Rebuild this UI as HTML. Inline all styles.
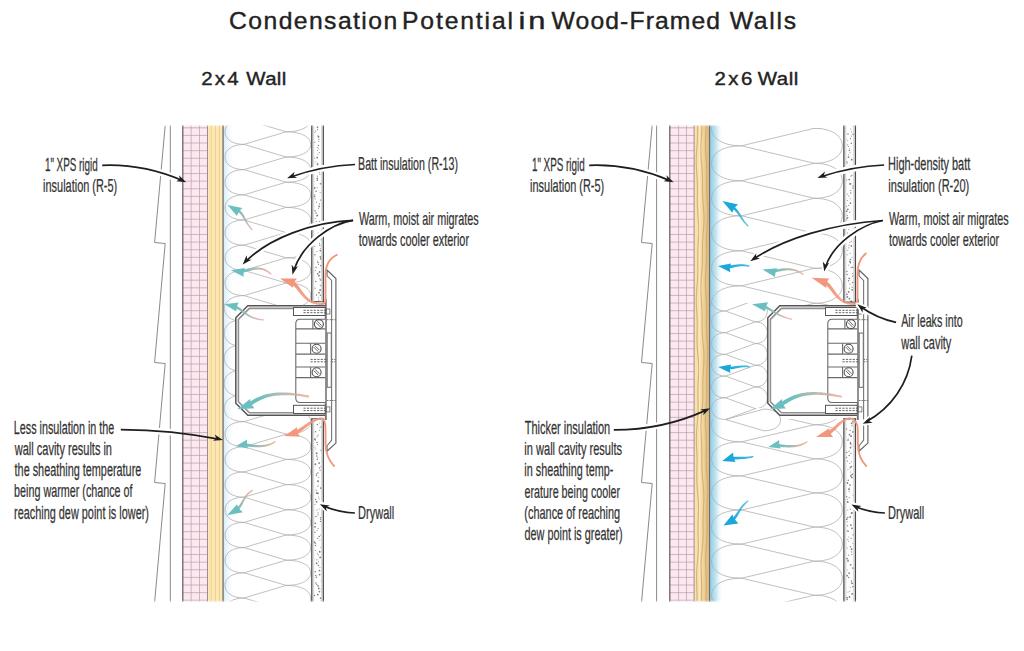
<!DOCTYPE html>
<html><head><meta charset="utf-8"><style>
html,body{margin:0;padding:0;background:#fff;overflow:hidden}
svg{display:block}
.t{font-family:"Liberation Sans",sans-serif;fill:#222;stroke:#222;stroke-width:0.4}
.l{font-family:"Liberation Sans",sans-serif;fill:#333;stroke:#333;stroke-width:0.25}
.sid{stroke:#8a8a8a;stroke-width:1;fill:none}
.ins{fill:none;stroke:#b0b0b0;stroke-width:0.8}
</style></head><body>
<svg width="1024" height="651" viewBox="0 0 1024 651">
<defs><linearGradient id="haze1" x1="0" x2="1" y1="0" y2="0"><stop offset="0" stop-color="#d6eef8"/><stop offset="1" stop-color="#fff" stop-opacity="0"/></linearGradient>
<clipPath id="cav1"><path d="M224,125 H311.2 V602 H224 Z M224,303.5 V418 H237 V303.5 Z" clip-rule="evenodd"/></clipPath>
<clipPath id="cav1b"><rect x="224" y="303.5" width="13" height="114.5"/></clipPath>
<linearGradient id="wood2" x1="0" x2="1" y1="0" y2="0"><stop offset="0" stop-color="#fae4b3"/><stop offset="0.5" stop-color="#f4d9a2"/><stop offset="0.78" stop-color="#e4c28b"/><stop offset="1" stop-color="#d5b179"/></linearGradient>
<linearGradient id="haze2" x1="0" x2="1" y1="0" y2="0"><stop offset="0" stop-color="#94cde6"/><stop offset="0.45" stop-color="#c5e5f2"/><stop offset="1" stop-color="#fff" stop-opacity="0"/></linearGradient>
<clipPath id="cav2"><path d="M710.5,125 H765 V127.9 H843.8 V305 H710.5 Z"/></clipPath>
<clipPath id="cav2c"><path d="M710.5,419 H843.8 V602 H710.5 Z"/></clipPath>
<clipPath id="cav2b"><path d="M710.5,303 H768.5 V408 H756 V419.5 H710.5 Z"/></clipPath>
<linearGradient id="g1" gradientUnits="userSpaceOnUse" x1="227.5" y1="205.1" x2="252.4" y2="230"><stop offset="0" stop-color="#6cbfc1"/><stop offset="0.3" stop-color="#6cbfc1"/><stop offset="1" stop-color="#e8a59a" stop-opacity="0.8"/></linearGradient>
<linearGradient id="g2" gradientUnits="userSpaceOnUse" x1="230.8" y1="270.2" x2="271.2" y2="274.3"><stop offset="0" stop-color="#6cbfc1"/><stop offset="0.3" stop-color="#6cbfc1"/><stop offset="1" stop-color="#efa58e" stop-opacity="0.8"/></linearGradient>
<linearGradient id="g3" gradientUnits="userSpaceOnUse" x1="280" y1="278.4" x2="322" y2="304"><stop offset="0" stop-color="#f2977b"/><stop offset="0.3" stop-color="#f2977b"/><stop offset="1" stop-color="#f2977b" stop-opacity="0.8"/></linearGradient>
<linearGradient id="g4" gradientUnits="userSpaceOnUse" x1="224.5" y1="304.2" x2="263.8" y2="319.9"><stop offset="0" stop-color="#6cbfc1"/><stop offset="0.3" stop-color="#6cbfc1"/><stop offset="1" stop-color="#e9b0a4" stop-opacity="0.8"/></linearGradient>
<linearGradient id="g5" gradientUnits="userSpaceOnUse" x1="237.4" y1="409.3" x2="309.1" y2="396.6"><stop offset="0" stop-color="#6cbfc1"/><stop offset="0.3" stop-color="#6cbfc1"/><stop offset="1" stop-color="#efa996" stop-opacity="0.8"/></linearGradient>
<linearGradient id="g6" gradientUnits="userSpaceOnUse" x1="284.1" y1="436.1" x2="321.6" y2="418.2"><stop offset="0" stop-color="#f2977b"/><stop offset="0.3" stop-color="#f2977b"/><stop offset="1" stop-color="#f2977b" stop-opacity="0.8"/></linearGradient>
<linearGradient id="g7" gradientUnits="userSpaceOnUse" x1="236" y1="446" x2="275.3" y2="441.4"><stop offset="0" stop-color="#6cbfc1"/><stop offset="0.3" stop-color="#6cbfc1"/><stop offset="1" stop-color="#efa58e" stop-opacity="0.8"/></linearGradient>
<linearGradient id="g8" gradientUnits="userSpaceOnUse" x1="227.2" y1="515.3" x2="252.7" y2="490.1"><stop offset="0" stop-color="#6cbfc1"/><stop offset="0.3" stop-color="#6cbfc1"/><stop offset="1" stop-color="#efa58e" stop-opacity="0.8"/></linearGradient>
<linearGradient id="g9" gradientUnits="userSpaceOnUse" x1="722.4" y1="201.1" x2="748.3" y2="226.3"><stop offset="0" stop-color="#1aa8dc"/><stop offset="0.3" stop-color="#1aa8dc"/><stop offset="1" stop-color="#5ab8c8" stop-opacity="0.8"/></linearGradient>
<linearGradient id="g10" gradientUnits="userSpaceOnUse" x1="717.9" y1="266" x2="749.4" y2="266.4"><stop offset="0" stop-color="#1aa8dc"/><stop offset="0.3" stop-color="#1aa8dc"/><stop offset="1" stop-color="#1aa8dc" stop-opacity="0.8"/></linearGradient>
<linearGradient id="g11" gradientUnits="userSpaceOnUse" x1="762.5" y1="269.6" x2="803.5" y2="274.8"><stop offset="0" stop-color="#6cbfc1"/><stop offset="0.3" stop-color="#6cbfc1"/><stop offset="1" stop-color="#efa58e" stop-opacity="0.8"/></linearGradient>
<linearGradient id="g12" gradientUnits="userSpaceOnUse" x1="811.6" y1="277.7" x2="854" y2="304"><stop offset="0" stop-color="#f2977b"/><stop offset="0.3" stop-color="#f2977b"/><stop offset="1" stop-color="#f2977b" stop-opacity="0.8"/></linearGradient>
<linearGradient id="g13" gradientUnits="userSpaceOnUse" x1="752" y1="304.2" x2="792.1" y2="319.3"><stop offset="0" stop-color="#6cbfc1"/><stop offset="0.3" stop-color="#6cbfc1"/><stop offset="1" stop-color="#e9b0a4" stop-opacity="0.8"/></linearGradient>
<linearGradient id="g14" gradientUnits="userSpaceOnUse" x1="718.1" y1="366.9" x2="749.6" y2="366.9"><stop offset="0" stop-color="#1aa8dc"/><stop offset="0.3" stop-color="#1aa8dc"/><stop offset="1" stop-color="#1aa8dc" stop-opacity="0.8"/></linearGradient>
<linearGradient id="g15" gradientUnits="userSpaceOnUse" x1="770.4" y1="409.1" x2="841.9" y2="396.8"><stop offset="0" stop-color="#6cbfc1"/><stop offset="0.3" stop-color="#6cbfc1"/><stop offset="1" stop-color="#efa996" stop-opacity="0.8"/></linearGradient>
<linearGradient id="g16" gradientUnits="userSpaceOnUse" x1="815.9" y1="436.9" x2="849.5" y2="418.1"><stop offset="0" stop-color="#f2977b"/><stop offset="0.3" stop-color="#f2977b"/><stop offset="1" stop-color="#f2977b" stop-opacity="0.8"/></linearGradient>
<linearGradient id="g17" gradientUnits="userSpaceOnUse" x1="768.25" y1="447" x2="807.3" y2="441.6"><stop offset="0" stop-color="#6cbfc1"/><stop offset="0.3" stop-color="#6cbfc1"/><stop offset="1" stop-color="#efa58e" stop-opacity="0.8"/></linearGradient>
<linearGradient id="g18" gradientUnits="userSpaceOnUse" x1="722.2" y1="461.1" x2="753.4" y2="456.4"><stop offset="0" stop-color="#1aa8dc"/><stop offset="0.3" stop-color="#1aa8dc"/><stop offset="1" stop-color="#1aa8dc" stop-opacity="0.8"/></linearGradient>
<linearGradient id="g19" gradientUnits="userSpaceOnUse" x1="723.5" y1="525.5" x2="748.3" y2="500.7"><stop offset="0" stop-color="#1aa8dc"/><stop offset="0.3" stop-color="#1aa8dc"/><stop offset="1" stop-color="#4fb5cf" stop-opacity="0.8"/></linearGradient>
<linearGradient id="fadeT" x1="0" x2="0" y1="0" y2="1"><stop offset="0" stop-color="#fff"/><stop offset="1" stop-color="#fff" stop-opacity="0"/></linearGradient>
<linearGradient id="fadeB" x1="0" x2="0" y1="1" y2="0"><stop offset="0" stop-color="#fff"/><stop offset="1" stop-color="#fff" stop-opacity="0"/></linearGradient></defs>
<rect width="1024" height="651" fill="#fff"/>
<line x1="170.3" y1="125" x2="170.3" y2="602" class="sid"/>
<path d="M165.2,125.5 L154.6,242.5 L165.2,243.5 L154.6,362.5 L165.2,363.5 L154.6,482.5 L165.2,483.5 L154.6,602.5" class="sid" fill="none"/>
<rect x="182.3" y="125" width="25.5" height="477" fill="#fde7f0"/>
<path d="M191.2,125V602M199.5,125V602M182.3,127.8H207.8M182.3,135.42H207.8M182.3,143.04H207.8M182.3,150.66H207.8M182.3,158.28H207.8M182.3,165.9H207.8M182.3,173.52H207.8M182.3,181.14H207.8M182.3,188.76H207.8M182.3,196.38H207.8M182.3,204H207.8M182.3,211.62H207.8M182.3,219.24H207.8M182.3,226.86H207.8M182.3,234.48H207.8M182.3,242.1H207.8M182.3,249.72H207.8M182.3,257.34H207.8M182.3,264.96H207.8M182.3,272.58H207.8M182.3,280.2H207.8M182.3,287.82H207.8M182.3,295.44H207.8M182.3,303.06H207.8M182.3,310.68H207.8M182.3,318.3H207.8M182.3,325.92H207.8M182.3,333.54H207.8M182.3,341.16H207.8M182.3,348.78H207.8M182.3,356.4H207.8M182.3,364.02H207.8M182.3,371.64H207.8M182.3,379.26H207.8M182.3,386.88H207.8M182.3,394.5H207.8M182.3,402.12H207.8M182.3,409.74H207.8M182.3,417.36H207.8M182.3,424.98H207.8M182.3,432.6H207.8M182.3,440.22H207.8M182.3,447.84H207.8M182.3,455.46H207.8M182.3,463.08H207.8M182.3,470.7H207.8M182.3,478.32H207.8M182.3,485.94H207.8M182.3,493.56H207.8M182.3,501.18H207.8M182.3,508.8H207.8M182.3,516.42H207.8M182.3,524.04H207.8M182.3,531.66H207.8M182.3,539.28H207.8M182.3,546.9H207.8M182.3,554.52H207.8M182.3,562.14H207.8M182.3,569.76H207.8M182.3,577.38H207.8M182.3,585H207.8M182.3,592.62H207.8M182.3,600.24H207.8" stroke="#b3a2ab" stroke-width="0.7" fill="none"/>
<path d="M182.8,125V602M207.8,125V602" stroke="#6d6468" stroke-width="1.3" fill="none"/>
<rect x="207.8" y="125" width="15.8" height="477" fill="#fde8b4"/>
<path d="M211.2,125V602M215.4,125V602M219.5,125V602" stroke="#ebcf94" stroke-width="1" fill="none"/>
<path d="M223.3,125V602" stroke="#5a5550" stroke-width="1.6" fill="none"/>
<rect x="223.6" y="125" width="12" height="477" fill="url(#haze1)"/>
<g clip-path="url(#cav1)"><path d="M244,68.8 L286.2,81.4 L244,94 L286.2,106.6 L244,119.2 L286.2,131.8 L244,144.4 L286.2,157 L244,169.6 L286.2,182.2 L244,194.8 L286.2,207.4 L244,220 L286.2,232.6 L244,245.2 L286.2,257.8 L244,270.4 L286.2,283 L244,295.6 L286.2,308.2 L244,320.8 L286.2,333.4 L244,346 L286.2,358.6 L244,371.2 L286.2,383.8 L244,396.4 L286.2,409 L244,421.6 L286.2,434.2 L244,446.8 L286.2,459.4 L244,472 L286.2,484.6 L244,497.2 L286.2,509.8 L244,522.4 L286.2,535 L244,547.6 L286.2,560.2 L244,572.8 L286.2,585.4 L244,598 L286.2,610.6 L244,623.2 L286.2,635.8 L244,648.4 L286.2,661M244,94C232.22,94 225,88.71 225,81.4C225,74.09 232.22,68.8 244,68.8M286.2,81.4C301.39,81.4 310.7,86.69 310.7,94C310.7,101.31 301.39,106.6 286.2,106.6M244,119.2C232.22,119.2 225,113.91 225,106.6C225,99.29 232.22,94 244,94M286.2,106.6C301.39,106.6 310.7,111.89 310.7,119.2C310.7,126.51 301.39,131.8 286.2,131.8M244,144.4C232.22,144.4 225,139.11 225,131.8C225,124.49 232.22,119.2 244,119.2M286.2,131.8C301.39,131.8 310.7,137.09 310.7,144.4C310.7,151.71 301.39,157 286.2,157M244,169.6C232.22,169.6 225,164.31 225,157C225,149.69 232.22,144.4 244,144.4M286.2,157C301.39,157 310.7,162.29 310.7,169.6C310.7,176.91 301.39,182.2 286.2,182.2M244,194.8C232.22,194.8 225,189.51 225,182.2C225,174.89 232.22,169.6 244,169.6M286.2,182.2C301.39,182.2 310.7,187.49 310.7,194.8C310.7,202.11 301.39,207.4 286.2,207.4M244,220C232.22,220 225,214.71 225,207.4C225,200.09 232.22,194.8 244,194.8M286.2,207.4C301.39,207.4 310.7,212.69 310.7,220C310.7,227.31 301.39,232.6 286.2,232.6M244,245.2C232.22,245.2 225,239.91 225,232.6C225,225.29 232.22,220 244,220M286.2,232.6C301.39,232.6 310.7,237.89 310.7,245.2C310.7,252.51 301.39,257.8 286.2,257.8M244,270.4C232.22,270.4 225,265.11 225,257.8C225,250.49 232.22,245.2 244,245.2M286.2,257.8C301.39,257.8 310.7,263.09 310.7,270.4C310.7,277.71 301.39,283 286.2,283M244,295.6C232.22,295.6 225,290.31 225,283C225,275.69 232.22,270.4 244,270.4M286.2,283C301.39,283 310.7,288.29 310.7,295.6C310.7,302.91 301.39,308.2 286.2,308.2M244,320.8C232.22,320.8 225,315.51 225,308.2C225,300.89 232.22,295.6 244,295.6M286.2,308.2C301.39,308.2 310.7,313.49 310.7,320.8C310.7,328.11 301.39,333.4 286.2,333.4M244,346C232.22,346 225,340.71 225,333.4C225,326.09 232.22,320.8 244,320.8M286.2,333.4C301.39,333.4 310.7,338.69 310.7,346C310.7,353.31 301.39,358.6 286.2,358.6M244,371.2C232.22,371.2 225,365.91 225,358.6C225,351.29 232.22,346 244,346M286.2,358.6C301.39,358.6 310.7,363.89 310.7,371.2C310.7,378.51 301.39,383.8 286.2,383.8M244,396.4C232.22,396.4 225,391.11 225,383.8C225,376.49 232.22,371.2 244,371.2M286.2,383.8C301.39,383.8 310.7,389.09 310.7,396.4C310.7,403.71 301.39,409 286.2,409M244,421.6C232.22,421.6 225,416.31 225,409C225,401.69 232.22,396.4 244,396.4M286.2,409C301.39,409 310.7,414.29 310.7,421.6C310.7,428.91 301.39,434.2 286.2,434.2M244,446.8C232.22,446.8 225,441.51 225,434.2C225,426.89 232.22,421.6 244,421.6M286.2,434.2C301.39,434.2 310.7,439.49 310.7,446.8C310.7,454.11 301.39,459.4 286.2,459.4M244,472C232.22,472 225,466.71 225,459.4C225,452.09 232.22,446.8 244,446.8M286.2,459.4C301.39,459.4 310.7,464.69 310.7,472C310.7,479.31 301.39,484.6 286.2,484.6M244,497.2C232.22,497.2 225,491.91 225,484.6C225,477.29 232.22,472 244,472M286.2,484.6C301.39,484.6 310.7,489.89 310.7,497.2C310.7,504.51 301.39,509.8 286.2,509.8M244,522.4C232.22,522.4 225,517.11 225,509.8C225,502.49 232.22,497.2 244,497.2M286.2,509.8C301.39,509.8 310.7,515.09 310.7,522.4C310.7,529.71 301.39,535 286.2,535M244,547.6C232.22,547.6 225,542.31 225,535C225,527.69 232.22,522.4 244,522.4M286.2,535C301.39,535 310.7,540.29 310.7,547.6C310.7,554.91 301.39,560.2 286.2,560.2M244,572.8C232.22,572.8 225,567.51 225,560.2C225,552.89 232.22,547.6 244,547.6M286.2,560.2C301.39,560.2 310.7,565.49 310.7,572.8C310.7,580.11 301.39,585.4 286.2,585.4M244,598C232.22,598 225,592.71 225,585.4C225,578.09 232.22,572.8 244,572.8M286.2,585.4C301.39,585.4 310.7,590.69 310.7,598C310.7,605.31 301.39,610.6 286.2,610.6M244,623.2C232.22,623.2 225,617.91 225,610.6C225,603.29 232.22,598 244,598M286.2,610.6C301.39,610.6 310.7,615.89 310.7,623.2C310.7,630.51 301.39,635.8 286.2,635.8M244,648.4C232.22,648.4 225,643.11 225,635.8C225,628.49 232.22,623.2 244,623.2M286.2,635.8C301.39,635.8 310.7,641.09 310.7,648.4C310.7,655.71 301.39,661 286.2,661M244,673.6C232.22,673.6 225,668.31 225,661C225,653.69 232.22,648.4 244,648.4M286.2,661C301.39,661 310.7,666.29 310.7,673.6C310.7,680.91 301.39,686.2 286.2,686.2" class="ins"/></g>
<g clip-path="url(#cav1b)"><path d="M236.5,295.4 C229,296.4 224.2,301.9 224.2,307.95 C224.2,314 229,319.5 236.5,320.5M236.5,320.5 C229,321.5 224.2,327 224.2,333.05 C224.2,339.1 229,344.6 236.5,345.6M236.5,345.6 C229,346.6 224.2,352.1 224.2,358.15 C224.2,364.2 229,369.7 236.5,370.7M236.5,370.7 C229,371.7 224.2,377.2 224.2,383.25 C224.2,389.3 229,394.8 236.5,395.8M236.5,395.8 C229,396.8 224.2,402.3 224.2,408.35 C224.2,414.4 229,419.9 236.5,420.9M236.5,420.9 C229,421.9 224.2,427.4 224.2,433.45 C224.2,439.5 229,445 236.5,446M236.5,446 C229,447 224.2,452.5 224.2,458.55 C224.2,464.6 229,470.1 236.5,471.1" class="ins"/></g>
<rect x="311.8" y="125" width="11.5" height="177.2" fill="#fff"/>
<g fill="#7d7d7d"><circle cx="317.47" cy="127.11" r="0.9"/><circle cx="317.46" cy="129.69" r="0.6"/><circle cx="315.59" cy="131" r="0.6"/><circle cx="314.96" cy="132.58" r="0.5"/><circle cx="318.07" cy="135.74" r="0.5"/><circle cx="318.47" cy="136.74" r="0.9"/><circle cx="318.88" cy="139.17" r="0.6"/><circle cx="318.66" cy="141.59" r="0.5"/><circle cx="314.72" cy="142.31" r="0.6"/><circle cx="318.5" cy="145.47" r="0.75"/><circle cx="317.38" cy="147.59" r="0.6"/><circle cx="318.78" cy="148.9" r="0.5"/><circle cx="317.5" cy="150.44" r="0.5"/><circle cx="319.25" cy="152.51" r="0.6"/><circle cx="317.89" cy="153.93" r="0.5"/><circle cx="317.1" cy="157.55" r="0.9"/><circle cx="314.77" cy="157.89" r="0.5"/><circle cx="315.79" cy="161.69" r="0.5"/><circle cx="317.59" cy="163.79" r="0.9"/><circle cx="317.24" cy="164.95" r="0.6"/><circle cx="319.75" cy="166.36" r="0.5"/><circle cx="316.48" cy="167.84" r="0.9"/><circle cx="319.61" cy="170.03" r="0.6"/><circle cx="319.25" cy="171.81" r="0.9"/><circle cx="319.88" cy="174.14" r="0.6"/><circle cx="317.43" cy="176.15" r="0.6"/><circle cx="317.23" cy="178.53" r="0.9"/><circle cx="317.25" cy="180.18" r="0.75"/><circle cx="320.35" cy="183.69" r="0.75"/><circle cx="321.29" cy="183.78" r="0.6"/><circle cx="317.06" cy="187.43" r="0.5"/><circle cx="314.59" cy="188.01" r="0.9"/><circle cx="316.11" cy="191.25" r="0.75"/><circle cx="320.11" cy="192.47" r="0.5"/><circle cx="314.93" cy="194.85" r="0.6"/><circle cx="314.41" cy="196.42" r="0.9"/><circle cx="315.19" cy="198.84" r="0.6"/><circle cx="320.37" cy="200.03" r="0.6"/><circle cx="316.48" cy="202.11" r="0.6"/><circle cx="319.38" cy="203.96" r="0.6"/><circle cx="319.11" cy="206.41" r="0.9"/><circle cx="318.52" cy="208.47" r="0.5"/><circle cx="315.06" cy="210.64" r="0.75"/><circle cx="315.97" cy="213.01" r="0.75"/><circle cx="317.25" cy="215.4" r="0.9"/><circle cx="316.35" cy="215.94" r="0.5"/><circle cx="315.18" cy="218.54" r="0.5"/><circle cx="316.26" cy="221.4" r="0.6"/><circle cx="319.54" cy="221.7" r="0.9"/><circle cx="317.42" cy="223.67" r="0.6"/><circle cx="316.27" cy="226.6" r="0.6"/><circle cx="314.95" cy="227.81" r="0.9"/><circle cx="321.16" cy="230.84" r="0.6"/><circle cx="318.43" cy="233.36" r="0.9"/><circle cx="320.67" cy="234.9" r="0.5"/><circle cx="314.45" cy="236.77" r="0.9"/><circle cx="314.77" cy="238.11" r="0.6"/><circle cx="321.3" cy="239.63" r="0.75"/><circle cx="319.46" cy="243.26" r="0.6"/><circle cx="319.85" cy="245.29" r="0.75"/><circle cx="314.89" cy="246.4" r="0.5"/><circle cx="320.4" cy="248.28" r="0.5"/><circle cx="320.34" cy="250.58" r="0.9"/><circle cx="316.95" cy="251.45" r="0.5"/><circle cx="314.86" cy="254.69" r="0.75"/><circle cx="320.46" cy="256.86" r="0.9"/><circle cx="320.84" cy="258.78" r="0.9"/><circle cx="317.38" cy="261.06" r="0.5"/><circle cx="317.93" cy="262.41" r="0.75"/><circle cx="318.51" cy="264.33" r="0.6"/><circle cx="321" cy="265.59" r="0.9"/><circle cx="316.09" cy="267.38" r="0.75"/><circle cx="315.3" cy="270.56" r="0.6"/><circle cx="319.58" cy="272.02" r="0.9"/><circle cx="317.79" cy="273.81" r="0.9"/><circle cx="318.96" cy="275.71" r="0.9"/><circle cx="319.93" cy="278.81" r="0.6"/><circle cx="320.46" cy="280.07" r="0.75"/><circle cx="315.77" cy="281.56" r="0.75"/><circle cx="320.16" cy="284.97" r="0.5"/><circle cx="320.95" cy="285.82" r="0.6"/><circle cx="315.09" cy="288.2" r="0.6"/><circle cx="320.12" cy="290.02" r="0.9"/><circle cx="319.01" cy="292.67" r="0.9"/><circle cx="316.54" cy="294.89" r="0.75"/><circle cx="320.41" cy="295.31" r="0.75"/><circle cx="318.29" cy="297.83" r="0.5"/><circle cx="318.79" cy="300.02" r="0.6"/></g>
<path d="M311.8,125V302.2M323.3,125V302.2" stroke="#4a4a4a" stroke-width="1.3" fill="none"/>
<path d="M311.8,301.7H323.3" stroke="#4a4a4a" stroke-width="1.1" fill="none"/>
<path d="M313.7,125V302.2M321.7,125V302.2" stroke="#c4c4c4" stroke-width="0.8" fill="none"/>
<rect x="311.8" y="418.3" width="11.5" height="183.7" fill="#fff"/>
<g fill="#7d7d7d"><circle cx="314.47" cy="420.96" r="0.6"/><circle cx="319.75" cy="422.89" r="0.5"/><circle cx="317.43" cy="424.55" r="0.75"/><circle cx="321.01" cy="426.66" r="0.6"/><circle cx="320.07" cy="427.8" r="0.5"/><circle cx="319.59" cy="430.35" r="0.5"/><circle cx="315.55" cy="431.82" r="0.75"/><circle cx="318.08" cy="435.17" r="0.6"/><circle cx="317.05" cy="436.85" r="0.6"/><circle cx="314.91" cy="439.13" r="0.9"/><circle cx="315.21" cy="440.17" r="0.5"/><circle cx="316.94" cy="442.4" r="0.75"/><circle cx="317.55" cy="444.56" r="0.6"/><circle cx="314.99" cy="446.99" r="0.5"/><circle cx="315.79" cy="449.05" r="0.5"/><circle cx="321.14" cy="450.32" r="0.75"/><circle cx="316.13" cy="452.68" r="0.5"/><circle cx="316.74" cy="453.41" r="0.9"/><circle cx="316.69" cy="456.08" r="0.75"/><circle cx="317.71" cy="457.29" r="0.5"/><circle cx="317.3" cy="459.3" r="0.75"/><circle cx="319.11" cy="463.06" r="0.9"/><circle cx="315.34" cy="464.26" r="0.9"/><circle cx="320.92" cy="466.21" r="0.5"/><circle cx="319.6" cy="468.1" r="0.75"/><circle cx="320.12" cy="470.34" r="0.6"/><circle cx="317.96" cy="472.9" r="0.75"/><circle cx="316.48" cy="473.97" r="0.6"/><circle cx="316.43" cy="475.49" r="0.75"/><circle cx="318.31" cy="477.61" r="0.5"/><circle cx="317.82" cy="480.41" r="0.5"/><circle cx="318.07" cy="481.29" r="0.9"/><circle cx="318.11" cy="485.17" r="0.5"/><circle cx="317.74" cy="486.57" r="0.5"/><circle cx="320.82" cy="488.1" r="0.9"/><circle cx="316.18" cy="490.13" r="0.6"/><circle cx="316.68" cy="492.98" r="0.9"/><circle cx="317.97" cy="493.39" r="0.9"/><circle cx="318.63" cy="497.02" r="0.6"/><circle cx="319.21" cy="499.12" r="0.5"/><circle cx="315.66" cy="499.62" r="0.75"/><circle cx="316.55" cy="501.87" r="0.9"/><circle cx="315.03" cy="504.62" r="0.5"/><circle cx="320.26" cy="506.4" r="0.6"/><circle cx="319.21" cy="508.91" r="0.5"/><circle cx="316.93" cy="509.98" r="0.6"/><circle cx="318.07" cy="512.87" r="0.6"/><circle cx="318.01" cy="514.84" r="0.6"/><circle cx="315.93" cy="516.62" r="0.75"/><circle cx="320.62" cy="517.77" r="0.75"/><circle cx="320.53" cy="519.52" r="0.6"/><circle cx="320.51" cy="521.4" r="0.6"/><circle cx="315.23" cy="523.3" r="0.9"/><circle cx="314.98" cy="526.79" r="0.9"/><circle cx="318.1" cy="528.53" r="0.6"/><circle cx="317.12" cy="530.49" r="0.5"/><circle cx="314.97" cy="532.25" r="0.75"/><circle cx="320.68" cy="535.05" r="0.5"/><circle cx="319.23" cy="536.38" r="0.75"/><circle cx="317.82" cy="538.47" r="0.6"/><circle cx="319.92" cy="540.06" r="0.5"/><circle cx="314.56" cy="542.2" r="0.9"/><circle cx="315.33" cy="543.46" r="0.6"/><circle cx="315.51" cy="545.41" r="0.75"/><circle cx="320.79" cy="547.28" r="0.5"/><circle cx="315.24" cy="550.45" r="0.5"/><circle cx="319.65" cy="551.73" r="0.9"/><circle cx="317.29" cy="553.79" r="0.6"/><circle cx="318.51" cy="555.1" r="0.5"/><circle cx="320.21" cy="557.43" r="0.9"/><circle cx="316.82" cy="559.81" r="0.6"/><circle cx="318.53" cy="561.26" r="0.5"/><circle cx="316.57" cy="563.23" r="0.9"/><circle cx="318.29" cy="565.44" r="0.75"/><circle cx="319.93" cy="567.57" r="0.5"/><circle cx="319.51" cy="570.61" r="0.9"/><circle cx="315.23" cy="571.71" r="0.75"/><circle cx="319.67" cy="574.57" r="0.9"/><circle cx="315.75" cy="575.41" r="0.75"/><circle cx="316.41" cy="577.24" r="0.75"/><circle cx="321.23" cy="580.84" r="0.5"/><circle cx="315.92" cy="582.92" r="0.75"/><circle cx="316.66" cy="584.35" r="0.6"/><circle cx="318.03" cy="585.8" r="0.9"/><circle cx="318.8" cy="588.42" r="0.9"/><circle cx="321.16" cy="589.07" r="0.5"/><circle cx="319.47" cy="591.53" r="0.9"/><circle cx="317.83" cy="594.53" r="0.9"/><circle cx="314.38" cy="595.53" r="0.75"/><circle cx="320.64" cy="598.1" r="0.9"/><circle cx="321.07" cy="600.14" r="0.5"/></g>
<path d="M311.8,418.3V602M323.3,418.3V602" stroke="#4a4a4a" stroke-width="1.3" fill="none"/>
<path d="M311.8,418.8H323.3" stroke="#4a4a4a" stroke-width="1.1" fill="none"/>
<path d="M313.7,418.3V602M321.7,418.3V602" stroke="#c4c4c4" stroke-width="0.8" fill="none"/>
<path d="M247.8,305.8 H325.2 V415.3 H247.8 L235.8,403.3 V317.8 Z" fill="#fff"/>
<path d="M325.2,305.8 H247.8 L235.8,317.8 V403.3 L247.8,415.3 H325.2" fill="none" stroke="#555" stroke-width="1.5"/>
<path d="M325.2,308.4 H249.4 L238.4,319.4 V401.7 L249.4,412.7 H325.2" fill="none" stroke="#8f8f8f" stroke-width="1.6"/>
<path d="M325.8,299 V420" stroke="#777" stroke-width="2" fill="none"/>
<rect x="293.5" y="307.5" width="31.7" height="8" fill="#fff" stroke="#555" stroke-width="1"/>
<path d="M303.5,310.3H325.2M303.5,312.7H325.2" stroke="#555" stroke-width="0.9" stroke-dasharray="2.2,1.2" fill="none"/>
<rect x="326.4" y="309" width="3.5" height="5" fill="#fff" stroke="#666" stroke-width="0.8"/>
<rect x="293.5" y="405.3" width="31.7" height="8.2" fill="#fff" stroke="#555" stroke-width="1"/>
<path d="M303.5,408.2H325.2M303.5,410.6H325.2" stroke="#555" stroke-width="0.9" stroke-dasharray="2.2,1.2" fill="none"/>
<rect x="326.4" y="406.9" width="3.5" height="5" fill="#fff" stroke="#666" stroke-width="0.8"/>
<path d="M325.2,319.2 H300 Q295.8,319.2 295.8,323.4 V398.3 Q295.8,402.5 300,402.5 H325.2" fill="#fff" stroke="#6a6a6a" stroke-width="1.1"/>
<path d="M295.8,328.9H325.2M295.8,343.2H325.2M295.8,354.1H325.2M295.8,367H325.2M295.8,377.6H325.2" stroke="#6a6a6a" stroke-width="1.1" fill="none"/>
<path d="M312.9,319.2V328.9" stroke="#6a6a6a" stroke-width="1.1" fill="none"/>
<circle cx="318.9" cy="324.1" r="4.5" fill="#fff" stroke="#505050" stroke-width="1.1"/>
<path d="M316,322.5L320.5,327M317.3,321.2L321.8,325.7" stroke="#555" stroke-width="0.9"/>
<path d="M310.6,343.2V354.1" stroke="#6a6a6a" stroke-width="1.1" fill="none"/>
<circle cx="316.6" cy="348.7" r="4.5" fill="#fff" stroke="#505050" stroke-width="1.1"/>
<path d="M313.7,347.1L318.2,351.6M315,345.8L319.5,350.3" stroke="#555" stroke-width="0.9"/>
<path d="M310.6,367V377.6" stroke="#6a6a6a" stroke-width="1.1" fill="none"/>
<circle cx="316.6" cy="372.2" r="4.5" fill="#fff" stroke="#505050" stroke-width="1.1"/>
<path d="M313.7,370.6L318.2,375.1M315,369.3L319.5,373.8" stroke="#555" stroke-width="0.9"/>
<path d="M310.5,359.4H335.5M310.5,361.8H335.5" stroke="#555" stroke-width="0.9" stroke-dasharray="2.2,1.2" fill="none"/>
<rect x="327.2" y="333" width="4.1" height="54.3" fill="#fff" stroke="#6a6a6a" stroke-width="1"/>
<path d="M327,319.7H336M327,400.5H336" stroke="#555" stroke-width="0.8" stroke-dasharray="1.5,1" fill="none"/>
<path d="M327,275.8 V270 L335.9,278.6 V443.1 L326.9,451.3 V446" fill="none" stroke="#666" stroke-width="1.2"/>
<path d="M327,275.8 L331.6,280.4 V440.2 L326.9,446" fill="none" stroke="#777" stroke-width="1.1"/>
<line x1="656.6" y1="125" x2="656.6" y2="602" class="sid"/>
<path d="M652.2,125.5 L641.5,242.5 L652.2,243.5 L641.5,362.5 L652.2,363.5 L641.5,482.5 L652.2,483.5 L641.5,602.5" class="sid" fill="none"/>
<rect x="669.3" y="125" width="25.1" height="477" fill="#fde7f0"/>
<path d="M678.6,125V602M686.5,125V602M669.3,127.8H694.4M669.3,135.42H694.4M669.3,143.04H694.4M669.3,150.66H694.4M669.3,158.28H694.4M669.3,165.9H694.4M669.3,173.52H694.4M669.3,181.14H694.4M669.3,188.76H694.4M669.3,196.38H694.4M669.3,204H694.4M669.3,211.62H694.4M669.3,219.24H694.4M669.3,226.86H694.4M669.3,234.48H694.4M669.3,242.1H694.4M669.3,249.72H694.4M669.3,257.34H694.4M669.3,264.96H694.4M669.3,272.58H694.4M669.3,280.2H694.4M669.3,287.82H694.4M669.3,295.44H694.4M669.3,303.06H694.4M669.3,310.68H694.4M669.3,318.3H694.4M669.3,325.92H694.4M669.3,333.54H694.4M669.3,341.16H694.4M669.3,348.78H694.4M669.3,356.4H694.4M669.3,364.02H694.4M669.3,371.64H694.4M669.3,379.26H694.4M669.3,386.88H694.4M669.3,394.5H694.4M669.3,402.12H694.4M669.3,409.74H694.4M669.3,417.36H694.4M669.3,424.98H694.4M669.3,432.6H694.4M669.3,440.22H694.4M669.3,447.84H694.4M669.3,455.46H694.4M669.3,463.08H694.4M669.3,470.7H694.4M669.3,478.32H694.4M669.3,485.94H694.4M669.3,493.56H694.4M669.3,501.18H694.4M669.3,508.8H694.4M669.3,516.42H694.4M669.3,524.04H694.4M669.3,531.66H694.4M669.3,539.28H694.4M669.3,546.9H694.4M669.3,554.52H694.4M669.3,562.14H694.4M669.3,569.76H694.4M669.3,577.38H694.4M669.3,585H694.4M669.3,592.62H694.4M669.3,600.24H694.4" stroke="#b3a2ab" stroke-width="0.7" fill="none"/>
<path d="M669.8,125V602M694.4,125V602" stroke="#6d6468" stroke-width="1.3" fill="none"/>
<rect x="694.4" y="125" width="15.8" height="477" fill="url(#wood2)"/>
<path d="" stroke="#c9a266" stroke-width="1" fill="none"/>
<path d="M709.9,125V602" stroke="#5b6a70" stroke-width="1.6" fill="none"/>
<path d="M697.5,125 L697.56,129 L697.58,133 L697.51,137 L697.34,141 L697.08,145 L696.78,149 L696.49,153 L696.28,157 L696.2,161 L696.27,165 L696.46,169 L696.73,173 L697.01,177 L697.24,181 L697.38,185 L697.42,189 L697.38,193 L697.32,197 L697.29,201 L697.34,205 L697.5,209 L697.76,213 L698.07,217 L698.39,221 L698.64,225 L698.77,229 L698.75,233 L698.61,237 L698.37,241 L698.11,245 L697.89,249 L697.74,253 L697.7,257 L697.73,261 L697.8,265 L697.85,269 L697.81,273 L697.67,277 L697.42,281 L697.1,285 L696.76,289 L696.47,293 L696.3,297 L696.26,301 L696.36,305 L696.56,309 L696.79,313 L697.01,317 L697.15,321 L697.2,325 L697.16,329 L697.09,333 L697.03,337 L697.04,341 L697.16,345 L697.39,349 L697.71,353 L698.07,357 L698.38,361 L698.61,365 L698.69,369 L698.64,373 L698.48,377 L698.27,381 L698.07,385 L697.93,389 L697.88,393 L697.92,397 L698.01,401 L698.09,405 L698.1,409 L698.01,413 L697.8,417 L697.48,421 L697.12,425 L696.78,429 L696.52,433 L696.39,437 L696.39,441 L696.51,445 L696.69,449 L696.88,453 L697.01,457 L697.05,461 L697.01,465 L696.91,469 L696.81,473 L696.77,477 L696.83,481 L697.02,485 L697.31,489 L697.67,493 L698.03,497 L698.33,501 L698.5,505 L698.54,509 L698.47,513 L698.31,517 L698.15,521 L698.03,525 L697.99,529 L698.04,533 L698.15,537 L698.27,541 L698.34,545 L698.32,549 L698.16,553 L697.89,557 L697.53,561 L697.16,565 L696.84,569 L696.63,573 L696.55,577 L696.59,581 L696.71,585 L696.85,589 L696.97,593 L697,597 L696.94,601M702.04,125 L701.89,129 L701.65,133 L701.36,137 L701.09,141 L700.89,145 L700.81,149 L700.9,153 L701.12,157 L701.44,161 L701.79,165 L702.11,169 L702.35,173 L702.48,177 L702.53,181 L702.52,185 L702.52,189 L702.59,193 L702.74,197 L702.99,201 L703.29,205 L703.61,209 L703.86,213 L703.99,217 L703.97,221 L703.8,225 L703.53,229 L703.2,233 L702.89,237 L702.65,241 L702.51,245 L702.45,249 L702.46,253 L702.46,257 L702.4,261 L702.25,265 L702,269 L701.68,273 L701.34,277 L701.04,281 L700.85,285 L700.81,289 L700.92,293 L701.15,297 L701.44,301 L701.73,305 L701.97,309 L702.11,313 L702.17,317 L702.17,321 L702.16,325 L702.2,329 L702.34,333 L702.58,337 L702.91,341 L703.28,345 L703.62,349 L703.86,353 L703.96,357 L703.92,361 L703.74,365 L703.48,369 L703.21,373 L702.99,377 L702.85,381 L702.79,385 L702.8,389 L702.82,393 L702.79,397 L702.67,401 L702.44,405 L702.11,409 L701.73,413 L701.36,417 L701.07,421 L700.91,425 L700.89,429 L701.02,433 L701.23,437 L701.47,441 L701.68,445 L701.82,449 L701.87,453 L701.85,457 L701.82,461 L701.82,465 L701.91,469 L702.12,473 L702.44,477 L702.83,481 L703.23,485 L703.56,489 L703.78,493 L703.85,497 L703.78,501 L703.61,505 L703.4,509 L703.21,513 L703.09,517 L703.05,521 L703.08,525 L703.13,529 L703.16,533 L703.09,537 L702.91,541 L702.6,545 L702.22,549 L701.8,553 L701.44,557 L701.17,561 L701.04,565 L701.06,569 L701.18,573 L701.36,577 L701.53,581 L701.64,585 L701.66,589 L701.62,593 L701.54,597 L701.49,601M706.29,125 L706.09,129 L705.85,133 L705.62,137 L705.46,141 L705.44,145 L705.55,149 L705.78,153 L706.09,157 L706.4,161 L706.66,165 L706.82,169 L706.87,173 L706.83,177 L706.75,181 L706.68,185 L706.69,189 L706.8,193 L707,197 L707.27,201 L707.52,205 L707.72,209 L707.79,213 L707.73,217 L707.53,221 L707.25,225 L706.95,229 L706.69,233 L706.52,237 L706.45,241 L706.48,245 L706.56,249 L706.62,253 L706.62,257 L706.52,261 L706.32,265 L706.05,269 L705.76,273 L705.53,277 L705.41,281 L705.43,285 L705.58,289 L705.82,293 L706.11,297 L706.37,301 L706.55,305 L706.63,309 L706.61,313 L706.54,317 L706.47,321 L706.46,325 L706.55,329 L706.74,333 L707.02,337 L707.32,341 L707.59,345 L707.75,349 L707.79,353 L707.68,357 L707.47,361 L707.21,365 L706.95,369 L706.77,373 L706.68,377 L706.69,381 L706.76,385 L706.84,389 L706.86,393 L706.79,397 L706.61,401 L706.33,405 L706.02,409 L705.72,413 L705.51,417 L705.43,421 L705.49,425 L705.66,429 L705.9,433 L706.14,437 L706.33,441 L706.42,445 L706.41,449 L706.34,453 L706.26,457 L706.22,461 L706.27,465 L706.43,469 L706.7,473 L707.02,477 L707.34,481 L707.59,485 L707.72,489 L707.71,493 L707.58,497 L707.37,501 L707.14,505 L706.96,509 L706.87,513 L706.87,517 L706.94,521 L707.04,525 L707.1,529 L707.07,533 L706.93,537 L706.67,541 L706.35,545 L706.01,549 L705.73,553 L705.56,557 L705.52,561 L705.61,565 L705.79,569 L706,573 L706.17,577 L706.27,581 L706.26,585 L706.19,589 L706.08,593 L705.99,597 L706,601" stroke="#cfa96d" stroke-width="1.1" fill="none" opacity="0.85"/>
<path d="M699.6,125V602" stroke="#fff3d6" stroke-width="1.2" fill="none" opacity="0.6"/>
<rect x="710.2" y="125" width="13" height="477" fill="url(#haze2)"/>
<g clip-path="url(#cav2)"><path d="M741.5,40.8 L814.3,58.3 L741.5,75.8 L814.3,93.3 L741.5,110.8 L814.3,128.3 L741.5,145.8 L814.3,163.3 L741.5,180.8 L814.3,198.3 L741.5,215.8 L814.3,233.3 L741.5,250.8 L814.3,268.3 L741.5,285.8 L814.3,303.3 L741.5,320.8 L814.3,338.3 L741.5,355.8 L814.3,373.3M741.5,75.8C722.9,75.8 711.5,68.45 711.5,58.3C711.5,48.15 722.9,40.8 741.5,40.8M814.3,58.3C831.66,58.3 842.3,65.65 842.3,75.8C842.3,85.95 831.66,93.3 814.3,93.3M741.5,110.8C722.9,110.8 711.5,103.45 711.5,93.3C711.5,83.15 722.9,75.8 741.5,75.8M814.3,93.3C831.66,93.3 842.3,100.65 842.3,110.8C842.3,120.95 831.66,128.3 814.3,128.3M741.5,145.8C722.9,145.8 711.5,138.45 711.5,128.3C711.5,118.15 722.9,110.8 741.5,110.8M814.3,128.3C831.66,128.3 842.3,135.65 842.3,145.8C842.3,155.95 831.66,163.3 814.3,163.3M741.5,180.8C722.9,180.8 711.5,173.45 711.5,163.3C711.5,153.15 722.9,145.8 741.5,145.8M814.3,163.3C831.66,163.3 842.3,170.65 842.3,180.8C842.3,190.95 831.66,198.3 814.3,198.3M741.5,215.8C722.9,215.8 711.5,208.45 711.5,198.3C711.5,188.15 722.9,180.8 741.5,180.8M814.3,198.3C831.66,198.3 842.3,205.65 842.3,215.8C842.3,225.95 831.66,233.3 814.3,233.3M741.5,250.8C722.9,250.8 711.5,243.45 711.5,233.3C711.5,223.15 722.9,215.8 741.5,215.8M814.3,233.3C831.66,233.3 842.3,240.65 842.3,250.8C842.3,260.95 831.66,268.3 814.3,268.3M741.5,285.8C722.9,285.8 711.5,278.45 711.5,268.3C711.5,258.15 722.9,250.8 741.5,250.8M814.3,268.3C831.66,268.3 842.3,275.65 842.3,285.8C842.3,295.95 831.66,303.3 814.3,303.3M741.5,320.8C722.9,320.8 711.5,313.45 711.5,303.3C711.5,293.15 722.9,285.8 741.5,285.8M814.3,303.3C831.66,303.3 842.3,310.65 842.3,320.8C842.3,330.95 831.66,338.3 814.3,338.3M741.5,355.8C722.9,355.8 711.5,348.45 711.5,338.3C711.5,328.15 722.9,320.8 741.5,320.8M814.3,338.3C831.66,338.3 842.3,345.65 842.3,355.8C842.3,365.95 831.66,373.3 814.3,373.3M741.5,390.8C722.9,390.8 711.5,383.45 711.5,373.3C711.5,363.15 722.9,355.8 741.5,355.8M814.3,373.3C831.66,373.3 842.3,380.65 842.3,390.8C842.3,400.95 831.66,408.3 814.3,408.3" class="ins"/></g>
<g clip-path="url(#cav2c)"><path d="M741.5,339.5 L814.3,356.55 L741.5,373.6 L814.3,390.65 L741.5,407.7 L814.3,424.75 L741.5,441.8 L814.3,458.85 L741.5,475.9 L814.3,492.95 L741.5,510 L814.3,527.05 L741.5,544.1 L814.3,561.15 L741.5,578.2 L814.3,595.25 L741.5,612.3 L814.3,629.35 L741.5,646.4 L814.3,663.45M741.5,373.6C722.9,373.6 711.5,366.44 711.5,356.55C711.5,346.66 722.9,339.5 741.5,339.5M814.3,356.55C831.66,356.55 842.3,363.71 842.3,373.6C842.3,383.49 831.66,390.65 814.3,390.65M741.5,407.7C722.9,407.7 711.5,400.54 711.5,390.65C711.5,380.76 722.9,373.6 741.5,373.6M814.3,390.65C831.66,390.65 842.3,397.81 842.3,407.7C842.3,417.59 831.66,424.75 814.3,424.75M741.5,441.8C722.9,441.8 711.5,434.64 711.5,424.75C711.5,414.86 722.9,407.7 741.5,407.7M814.3,424.75C831.66,424.75 842.3,431.91 842.3,441.8C842.3,451.69 831.66,458.85 814.3,458.85M741.5,475.9C722.9,475.9 711.5,468.74 711.5,458.85C711.5,448.96 722.9,441.8 741.5,441.8M814.3,458.85C831.66,458.85 842.3,466.01 842.3,475.9C842.3,485.79 831.66,492.95 814.3,492.95M741.5,510C722.9,510 711.5,502.84 711.5,492.95C711.5,483.06 722.9,475.9 741.5,475.9M814.3,492.95C831.66,492.95 842.3,500.11 842.3,510C842.3,519.89 831.66,527.05 814.3,527.05M741.5,544.1C722.9,544.1 711.5,536.94 711.5,527.05C711.5,517.16 722.9,510 741.5,510M814.3,527.05C831.66,527.05 842.3,534.21 842.3,544.1C842.3,553.99 831.66,561.15 814.3,561.15M741.5,578.2C722.9,578.2 711.5,571.04 711.5,561.15C711.5,551.26 722.9,544.1 741.5,544.1M814.3,561.15C831.66,561.15 842.3,568.31 842.3,578.2C842.3,588.09 831.66,595.25 814.3,595.25M741.5,612.3C722.9,612.3 711.5,605.14 711.5,595.25C711.5,585.36 722.9,578.2 741.5,578.2M814.3,595.25C831.66,595.25 842.3,602.41 842.3,612.3C842.3,622.19 831.66,629.35 814.3,629.35M741.5,646.4C722.9,646.4 711.5,639.24 711.5,629.35C711.5,619.46 722.9,612.3 741.5,612.3M814.3,629.35C831.66,629.35 842.3,636.51 842.3,646.4C842.3,656.29 831.66,663.45 814.3,663.45M741.5,680.5C722.9,680.5 711.5,673.34 711.5,663.45C711.5,653.56 722.9,646.4 741.5,646.4M814.3,663.45C831.66,663.45 842.3,670.61 842.3,680.5C842.3,690.39 831.66,697.55 814.3,697.55" class="ins"/></g>
<g clip-path="url(#cav2b)"><path d="M725.5,245.9 L755.3,256.75 L725.5,267.6 L755.3,278.45 L725.5,289.3 L755.3,300.15 L725.5,311 L755.3,321.85 L725.5,332.7 L755.3,343.55 L725.5,354.4 L755.3,365.25 L725.5,376.1 L755.3,386.95 L725.5,397.8 L755.3,408.65 L725.5,419.5 L755.3,430.35 L725.5,441.2 L755.3,452.05 L725.5,462.9 L755.3,473.75M725.5,267.6C716.82,267.6 711.5,263.04 711.5,256.75C711.5,250.46 716.82,245.9 725.5,245.9M755.3,256.75C762.74,256.75 767.3,261.31 767.3,267.6C767.3,273.89 762.74,278.45 755.3,278.45M725.5,289.3C716.82,289.3 711.5,284.74 711.5,278.45C711.5,272.16 716.82,267.6 725.5,267.6M755.3,278.45C762.74,278.45 767.3,283.01 767.3,289.3C767.3,295.59 762.74,300.15 755.3,300.15M725.5,311C716.82,311 711.5,306.44 711.5,300.15C711.5,293.86 716.82,289.3 725.5,289.3M755.3,300.15C762.74,300.15 767.3,304.71 767.3,311C767.3,317.29 762.74,321.85 755.3,321.85M725.5,332.7C716.82,332.7 711.5,328.14 711.5,321.85C711.5,315.56 716.82,311 725.5,311M755.3,321.85C762.74,321.85 767.3,326.41 767.3,332.7C767.3,338.99 762.74,343.55 755.3,343.55M725.5,354.4C716.82,354.4 711.5,349.84 711.5,343.55C711.5,337.26 716.82,332.7 725.5,332.7M755.3,343.55C762.74,343.55 767.3,348.11 767.3,354.4C767.3,360.69 762.74,365.25 755.3,365.25M725.5,376.1C716.82,376.1 711.5,371.54 711.5,365.25C711.5,358.96 716.82,354.4 725.5,354.4M755.3,365.25C762.74,365.25 767.3,369.81 767.3,376.1C767.3,382.39 762.74,386.95 755.3,386.95M725.5,397.8C716.82,397.8 711.5,393.24 711.5,386.95C711.5,380.66 716.82,376.1 725.5,376.1M755.3,386.95C762.74,386.95 767.3,391.51 767.3,397.8C767.3,404.09 762.74,408.65 755.3,408.65M725.5,419.5C716.82,419.5 711.5,414.94 711.5,408.65C711.5,402.36 716.82,397.8 725.5,397.8M755.3,408.65C762.74,408.65 767.3,413.21 767.3,419.5C767.3,425.79 762.74,430.35 755.3,430.35M725.5,441.2C716.82,441.2 711.5,436.64 711.5,430.35C711.5,424.06 716.82,419.5 725.5,419.5M755.3,430.35C762.74,430.35 767.3,434.91 767.3,441.2C767.3,447.49 762.74,452.05 755.3,452.05M725.5,462.9C716.82,462.9 711.5,458.34 711.5,452.05C711.5,445.76 716.82,441.2 725.5,441.2M755.3,452.05C762.74,452.05 767.3,456.61 767.3,462.9C767.3,469.19 762.74,473.75 755.3,473.75M725.5,484.6C716.82,484.6 711.5,480.04 711.5,473.75C711.5,467.46 716.82,462.9 725.5,462.9M755.3,473.75C762.74,473.75 767.3,478.31 767.3,484.6C767.3,490.89 762.74,495.45 755.3,495.45" class="ins"/></g>
<path d="M725.5,419.5 L764,409.1 C772,409.1 780.5,412.5 780.5,420 C780.5,427.5 772,430.8 764,430.8 L725.5,419.5" class="ins"/>
<rect x="843.9" y="125" width="11.5" height="177.6" fill="#fff"/>
<g fill="#7d7d7d"><circle cx="853.11" cy="126.28" r="0.5"/><circle cx="850.69" cy="128.89" r="0.5"/><circle cx="851.58" cy="131.74" r="0.5"/><circle cx="848.02" cy="133.9" r="0.75"/><circle cx="853.23" cy="134.34" r="0.9"/><circle cx="851.36" cy="136.07" r="0.5"/><circle cx="850.53" cy="138.59" r="0.6"/><circle cx="847.66" cy="140.19" r="0.5"/><circle cx="851.29" cy="143.19" r="0.75"/><circle cx="847.69" cy="144.74" r="0.6"/><circle cx="848.36" cy="146.49" r="0.6"/><circle cx="849.42" cy="148.63" r="0.5"/><circle cx="849.34" cy="150.45" r="0.75"/><circle cx="850.02" cy="152.76" r="0.6"/><circle cx="848.55" cy="154.68" r="0.5"/><circle cx="848.48" cy="157.12" r="0.9"/><circle cx="851.7" cy="159.72" r="0.9"/><circle cx="847.02" cy="161.91" r="0.75"/><circle cx="847.09" cy="163.48" r="0.5"/><circle cx="852.91" cy="165.81" r="0.6"/><circle cx="849.2" cy="166.1" r="0.6"/><circle cx="847.6" cy="169" r="0.75"/><circle cx="847.65" cy="171.72" r="0.6"/><circle cx="849.51" cy="172.02" r="0.6"/><circle cx="851.97" cy="175.18" r="0.6"/><circle cx="850.99" cy="176.09" r="0.6"/><circle cx="849.28" cy="179.53" r="0.9"/><circle cx="846.7" cy="180.12" r="0.6"/><circle cx="850.49" cy="183.85" r="0.9"/><circle cx="849.73" cy="184" r="0.75"/><circle cx="853.08" cy="186.08" r="0.75"/><circle cx="853" cy="187.9" r="0.75"/><circle cx="850.84" cy="190.53" r="0.6"/><circle cx="850.8" cy="193.04" r="0.75"/><circle cx="847.64" cy="194" r="0.6"/><circle cx="848.87" cy="196.08" r="0.6"/><circle cx="850.14" cy="198.81" r="0.5"/><circle cx="847.66" cy="200.38" r="0.5"/><circle cx="850.47" cy="203.06" r="0.9"/><circle cx="848.81" cy="205.29" r="0.6"/><circle cx="846.67" cy="206.57" r="0.5"/><circle cx="847.84" cy="209.32" r="0.9"/><circle cx="846.74" cy="211.18" r="0.9"/><circle cx="849.65" cy="212.3" r="0.6"/><circle cx="847.19" cy="215.64" r="0.6"/><circle cx="847.65" cy="217.71" r="0.75"/><circle cx="846.8" cy="218.79" r="0.75"/><circle cx="846.7" cy="220.76" r="0.5"/><circle cx="848.34" cy="223.32" r="0.6"/><circle cx="850.82" cy="225.74" r="0.6"/><circle cx="849.5" cy="226.63" r="0.75"/><circle cx="848.8" cy="229.49" r="0.5"/><circle cx="851.32" cy="230.98" r="0.5"/><circle cx="847.63" cy="233.36" r="0.75"/><circle cx="848.35" cy="235.44" r="0.75"/><circle cx="847.72" cy="236.3" r="0.6"/><circle cx="848.84" cy="239.33" r="0.9"/><circle cx="851.28" cy="241.37" r="0.6"/><circle cx="849.89" cy="242.42" r="0.5"/><circle cx="849.11" cy="245.04" r="0.6"/><circle cx="851.35" cy="245.9" r="0.9"/><circle cx="848.77" cy="247.83" r="0.6"/><circle cx="847.78" cy="250.44" r="0.5"/><circle cx="850.09" cy="253.25" r="0.5"/><circle cx="847.19" cy="254.72" r="0.5"/><circle cx="852.05" cy="257.35" r="0.5"/><circle cx="850.39" cy="259.54" r="0.75"/><circle cx="849.93" cy="261.57" r="0.9"/><circle cx="850.43" cy="262.74" r="0.75"/><circle cx="848.66" cy="265.04" r="0.5"/><circle cx="852.71" cy="267.28" r="0.75"/><circle cx="851.15" cy="267.68" r="0.6"/><circle cx="846.8" cy="271.52" r="0.75"/><circle cx="852.62" cy="273.54" r="0.5"/><circle cx="847.12" cy="274.55" r="0.75"/><circle cx="852.83" cy="275.98" r="0.75"/><circle cx="849.3" cy="278.36" r="0.9"/><circle cx="848.55" cy="280.73" r="0.75"/><circle cx="852.72" cy="282.57" r="0.75"/><circle cx="850" cy="284.08" r="0.6"/><circle cx="852.16" cy="287.14" r="0.6"/><circle cx="849.51" cy="288.15" r="0.6"/><circle cx="852.14" cy="289.85" r="0.9"/><circle cx="848.69" cy="291.95" r="0.9"/><circle cx="846.88" cy="294.3" r="0.9"/><circle cx="847.33" cy="296.94" r="0.9"/><circle cx="849.44" cy="298.68" r="0.9"/><circle cx="851.2" cy="301.22" r="0.9"/></g>
<path d="M843.9,125V302.6M855.4,125V302.6" stroke="#4a4a4a" stroke-width="1.3" fill="none"/>
<path d="M843.9,302.1H855.4" stroke="#4a4a4a" stroke-width="1.1" fill="none"/>
<path d="M845.8,125V302.6M853.8,125V302.6" stroke="#c4c4c4" stroke-width="0.8" fill="none"/>
<rect x="843.9" y="418.3" width="11.5" height="183.7" fill="#fff"/>
<g fill="#7d7d7d"><circle cx="848.93" cy="419.87" r="0.5"/><circle cx="852.95" cy="421.53" r="0.9"/><circle cx="851.68" cy="423.45" r="0.9"/><circle cx="851.94" cy="425.82" r="0.6"/><circle cx="846.54" cy="429.12" r="0.75"/><circle cx="850.16" cy="430.45" r="0.6"/><circle cx="852.93" cy="431.95" r="0.9"/><circle cx="849.54" cy="434.71" r="0.9"/><circle cx="851.07" cy="436.17" r="0.9"/><circle cx="848.23" cy="439" r="0.6"/><circle cx="847.98" cy="440.33" r="0.75"/><circle cx="850.41" cy="442.47" r="0.6"/><circle cx="850.68" cy="443.74" r="0.9"/><circle cx="851.99" cy="446" r="0.5"/><circle cx="850.46" cy="447.71" r="0.9"/><circle cx="849.02" cy="451.18" r="0.6"/><circle cx="846.72" cy="452.46" r="0.75"/><circle cx="850.96" cy="453.46" r="0.6"/><circle cx="849.17" cy="455.44" r="0.75"/><circle cx="846.49" cy="457.57" r="0.75"/><circle cx="847.5" cy="461.11" r="0.6"/><circle cx="851.34" cy="461.75" r="0.5"/><circle cx="849.73" cy="463.58" r="0.5"/><circle cx="851.27" cy="466.56" r="0.9"/><circle cx="850.17" cy="467.87" r="0.75"/><circle cx="848" cy="469.58" r="0.5"/><circle cx="850.7" cy="471.94" r="0.5"/><circle cx="852.18" cy="474.29" r="0.9"/><circle cx="850.78" cy="475.88" r="0.9"/><circle cx="851.77" cy="477.39" r="0.9"/><circle cx="848.25" cy="480.34" r="0.75"/><circle cx="847.43" cy="483.01" r="0.9"/><circle cx="849.98" cy="485" r="0.75"/><circle cx="850.17" cy="485.51" r="0.5"/><circle cx="849.56" cy="487.96" r="0.5"/><circle cx="848.92" cy="489.24" r="0.9"/><circle cx="849.12" cy="491.76" r="0.6"/><circle cx="852.94" cy="495.17" r="0.5"/><circle cx="846.69" cy="496.81" r="0.75"/><circle cx="849.23" cy="497.53" r="0.6"/><circle cx="847.56" cy="499.21" r="0.5"/><circle cx="847.75" cy="502.01" r="0.9"/><circle cx="850.82" cy="503.77" r="0.75"/><circle cx="851.53" cy="505.89" r="0.5"/><circle cx="850.31" cy="509.1" r="0.6"/><circle cx="847.72" cy="509.93" r="0.5"/><circle cx="852.08" cy="512.69" r="0.75"/><circle cx="851.56" cy="513.17" r="0.9"/><circle cx="850.08" cy="516.91" r="0.9"/><circle cx="847.73" cy="517.56" r="0.75"/><circle cx="846.71" cy="519.19" r="0.9"/><circle cx="847.23" cy="521.83" r="0.5"/><circle cx="850.87" cy="525.04" r="0.9"/><circle cx="847.59" cy="525.64" r="0.6"/><circle cx="851.87" cy="528.35" r="0.9"/><circle cx="847.2" cy="530.85" r="0.6"/><circle cx="848.2" cy="531.36" r="0.75"/><circle cx="853.19" cy="534.94" r="0.75"/><circle cx="848.84" cy="537.09" r="0.5"/><circle cx="851.08" cy="538.46" r="0.6"/><circle cx="847.8" cy="539.52" r="0.6"/><circle cx="848.64" cy="541.36" r="0.5"/><circle cx="852.92" cy="543.55" r="0.5"/><circle cx="850.48" cy="546.76" r="0.75"/><circle cx="847.18" cy="547.92" r="0.5"/><circle cx="851.59" cy="549.13" r="0.9"/><circle cx="851.65" cy="551.91" r="0.6"/><circle cx="851.7" cy="554.61" r="0.6"/><circle cx="848.65" cy="555.17" r="0.6"/><circle cx="847" cy="558.58" r="0.9"/><circle cx="848.05" cy="560.18" r="0.75"/><circle cx="848.03" cy="561.32" r="0.75"/><circle cx="851.14" cy="564.44" r="0.5"/><circle cx="850.46" cy="565.11" r="0.75"/><circle cx="853.02" cy="568.1" r="0.9"/><circle cx="847.13" cy="569.89" r="0.5"/><circle cx="848.97" cy="572.94" r="0.75"/><circle cx="849.13" cy="573.54" r="0.6"/><circle cx="847.06" cy="575.63" r="0.9"/><circle cx="848.68" cy="577.57" r="0.75"/><circle cx="851.46" cy="580.95" r="0.75"/><circle cx="851.77" cy="582.99" r="0.75"/><circle cx="852.17" cy="583.59" r="0.75"/><circle cx="853.16" cy="586.61" r="0.9"/><circle cx="850.25" cy="587.37" r="0.5"/><circle cx="849.85" cy="591.01" r="0.6"/><circle cx="848.05" cy="591.88" r="0.5"/><circle cx="852.11" cy="593.95" r="0.9"/><circle cx="849.52" cy="596.95" r="0.9"/><circle cx="847.01" cy="597.71" r="0.9"/><circle cx="847.19" cy="599.6" r="0.75"/></g>
<path d="M843.9,418.3V602M855.4,418.3V602" stroke="#4a4a4a" stroke-width="1.3" fill="none"/>
<path d="M843.9,418.8H855.4" stroke="#4a4a4a" stroke-width="1.1" fill="none"/>
<path d="M845.8,418.3V602M853.8,418.3V602" stroke="#c4c4c4" stroke-width="0.8" fill="none"/>
<path d="M779.8,305.8 H857.2 V415.3 H779.8 L767.8,403.3 V317.8 Z" fill="#fff"/>
<path d="M857.2,305.8 H779.8 L767.8,317.8 V403.3 L779.8,415.3 H857.2" fill="none" stroke="#555" stroke-width="1.5"/>
<path d="M857.2,308.4 H781.4 L770.4,319.4 V401.7 L781.4,412.7 H857.2" fill="none" stroke="#8f8f8f" stroke-width="1.6"/>
<path d="M857.8,299 V420" stroke="#777" stroke-width="2" fill="none"/>
<rect x="825.5" y="307.5" width="31.7" height="8" fill="#fff" stroke="#555" stroke-width="1"/>
<path d="M835.5,310.3H857.2M835.5,312.7H857.2" stroke="#555" stroke-width="0.9" stroke-dasharray="2.2,1.2" fill="none"/>
<rect x="858.4" y="309" width="3.5" height="5" fill="#fff" stroke="#666" stroke-width="0.8"/>
<rect x="825.5" y="405.3" width="31.7" height="8.2" fill="#fff" stroke="#555" stroke-width="1"/>
<path d="M835.5,408.2H857.2M835.5,410.6H857.2" stroke="#555" stroke-width="0.9" stroke-dasharray="2.2,1.2" fill="none"/>
<rect x="858.4" y="406.9" width="3.5" height="5" fill="#fff" stroke="#666" stroke-width="0.8"/>
<path d="M857.2,319.2 H832 Q827.8,319.2 827.8,323.4 V398.3 Q827.8,402.5 832,402.5 H857.2" fill="#fff" stroke="#6a6a6a" stroke-width="1.1"/>
<path d="M827.8,328.9H857.2M827.8,343.2H857.2M827.8,354.1H857.2M827.8,367H857.2M827.8,377.6H857.2" stroke="#6a6a6a" stroke-width="1.1" fill="none"/>
<path d="M844.9,319.2V328.9" stroke="#6a6a6a" stroke-width="1.1" fill="none"/>
<circle cx="850.9" cy="324.1" r="4.5" fill="#fff" stroke="#505050" stroke-width="1.1"/>
<path d="M848,322.5L852.5,327M849.3,321.2L853.8,325.7" stroke="#555" stroke-width="0.9"/>
<path d="M842.6,343.2V354.1" stroke="#6a6a6a" stroke-width="1.1" fill="none"/>
<circle cx="848.6" cy="348.7" r="4.5" fill="#fff" stroke="#505050" stroke-width="1.1"/>
<path d="M845.7,347.1L850.2,351.6M847,345.8L851.5,350.3" stroke="#555" stroke-width="0.9"/>
<path d="M842.6,367V377.6" stroke="#6a6a6a" stroke-width="1.1" fill="none"/>
<circle cx="848.6" cy="372.2" r="4.5" fill="#fff" stroke="#505050" stroke-width="1.1"/>
<path d="M845.7,370.6L850.2,375.1M847,369.3L851.5,373.8" stroke="#555" stroke-width="0.9"/>
<path d="M842.5,359.4H867.5M842.5,361.8H867.5" stroke="#555" stroke-width="0.9" stroke-dasharray="2.2,1.2" fill="none"/>
<rect x="859.2" y="333" width="4.1" height="54.3" fill="#fff" stroke="#6a6a6a" stroke-width="1"/>
<path d="M859,319.7H868M859,400.5H868" stroke="#555" stroke-width="0.8" stroke-dasharray="1.5,1" fill="none"/>
<path d="M859,275.8 V270 L867.9,278.6 V443.1 L858.9,451.3 V446" fill="none" stroke="#666" stroke-width="1.2"/>
<path d="M859,275.8 L863.6,280.4 V440.2 L858.9,446" fill="none" stroke="#777" stroke-width="1.1"/>
<rect x="140" y="124" width="760" height="3" fill="url(#fadeT)"/>
<rect x="140" y="600" width="760" height="3" fill="url(#fadeB)"/>
<path d="M235.9,211.01 L236.89,211.5 L237.75,212 L238.53,212.52 L239.23,213.06 L239.88,213.63 L240.48,214.24 L241.03,214.87 L241.56,215.54 L242.06,216.25 L242.54,216.98 L243.01,217.76 L243.48,218.57 L243.95,219.41 L244.45,220.28 L244.96,221.19 L245.5,222.12 L246.08,223.08 L246.71,224.07 L247.39,225.08 L248.14,226.11 L248.96,227.17 L249.86,228.24 L250.85,229.34 L251.93,230.45 L252.87,229.55 L251.85,228.43 L250.94,227.34 L250.12,226.27 L249.37,225.23 L248.7,224.21 L248.09,223.21 L247.53,222.23 L247.01,221.27 L246.53,220.34 L246.07,219.42 L245.63,218.53 L245.2,217.65 L244.76,216.79 L244.31,215.94 L243.84,215.11 L243.34,214.3 L242.79,213.51 L242.19,212.74 L241.53,211.99 L240.81,211.27 L240.01,210.58 L239.12,209.92 L238.15,209.29 L237.11,208.71Z" fill="url(#g1)"/>
<path d="M227.5,205.1 L242.3,207.9 Q238.19,211.08 237,215.9 Z" fill="#6cbfc1"/>
<path d="M240.89,273.18 L242.76,272.69 L244.54,272.21 L246.23,271.77 L247.84,271.35 L249.36,270.97 L250.81,270.63 L252.19,270.33 L253.5,270.07 L254.75,269.87 L255.95,269.71 L257.1,269.61 L258.2,269.57 L259.28,269.58 L260.32,269.66 L261.34,269.8 L262.35,270.02 L263.35,270.31 L264.35,270.68 L265.36,271.13 L266.39,271.67 L267.43,272.3 L268.5,273.04 L269.6,273.88 L270.74,274.83 L271.66,273.77 L270.53,272.76 L269.42,271.83 L268.32,271 L267.23,270.27 L266.14,269.63 L265.05,269.07 L263.96,268.6 L262.85,268.22 L261.73,267.92 L260.59,267.69 L259.42,267.54 L258.23,267.47 L257.01,267.45 L255.76,267.5 L254.47,267.61 L253.14,267.77 L251.75,267.98 L250.31,268.23 L248.82,268.52 L247.25,268.85 L245.61,269.22 L243.9,269.61 L242.1,270.03 L240.21,270.47Z" fill="url(#g2)"/>
<path d="M230.8,270.2 L244.9,268.1 Q242.68,272.14 243.7,276.7 Z" fill="#6cbfc1"/>
<path d="M290.21,283.58 L291.34,284.2 L292.35,284.87 L293.33,285.66 L294.28,286.55 L295.23,287.52 L296.16,288.58 L297.09,289.7 L298.03,290.87 L298.98,292.08 L299.96,293.32 L300.98,294.56 L302.04,295.8 L303.15,297.02 L304.34,298.21 L305.6,299.35 L306.95,300.43 L308.4,301.43 L309.96,302.34 L311.63,303.13 L313.43,303.8 L315.35,304.34 L317.42,304.72 L319.63,304.95 L321.96,305 L322.04,303 L319.79,302.88 L317.76,302.6 L315.89,302.18 L314.18,301.63 L312.6,300.96 L311.14,300.19 L309.8,299.33 L308.54,298.38 L307.38,297.35 L306.28,296.27 L305.24,295.12 L304.25,293.93 L303.31,292.71 L302.39,291.46 L301.48,290.2 L300.58,288.94 L299.68,287.69 L298.76,286.47 L297.8,285.27 L296.8,284.12 L295.74,283.02 L294.6,282 L293.37,281.07 L292.12,280.3Z" fill="url(#g3)"/>
<path d="M280,278.4 L297,278.4 Q293.16,282.54 292.9,287.8 Z" fill="#f2977b"/>
<path d="M233.65,307.49 L234.71,307.83 L235.69,308.22 L236.65,308.67 L237.6,309.18 L238.53,309.74 L239.47,310.35 L240.41,311 L241.36,311.68 L242.33,312.38 L243.33,313.11 L244.36,313.84 L245.43,314.57 L246.54,315.29 L247.7,316 L248.93,316.69 L250.22,317.35 L251.59,317.96 L253.03,318.53 L254.56,319.05 L256.19,319.5 L257.92,319.88 L259.75,320.19 L261.7,320.41 L263.75,320.55 L263.85,319.25 L261.83,319.07 L259.96,318.8 L258.22,318.45 L256.58,318.03 L255.05,317.55 L253.61,317.02 L252.27,316.43 L251,315.8 L249.8,315.13 L248.66,314.43 L247.58,313.71 L246.54,312.97 L245.54,312.22 L244.57,311.46 L243.61,310.7 L242.67,309.95 L241.73,309.21 L240.78,308.49 L239.81,307.8 L238.83,307.14 L237.8,306.52 L236.74,305.96 L235.63,305.45 L234.5,305.03Z" fill="url(#g4)"/>
<path d="M224.5,304.2 L238.6,302.4 Q235.94,306.66 236.4,311.6 Z" fill="#6cbfc1"/>
<path d="M249.9,406.55 L251.52,405.44 L253.11,404.37 L254.71,403.34 L256.32,402.35 L257.96,401.42 L259.63,400.53 L261.34,399.7 L263.11,398.93 L264.96,398.21 L266.88,397.56 L268.91,396.98 L271.03,396.47 L273.28,396.04 L275.66,395.68 L278.17,395.41 L280.84,395.24 L283.67,395.15 L286.68,395.17 L289.87,395.29 L293.25,395.52 L296.83,395.87 L300.63,396.33 L304.65,396.92 L308.92,397.63 L309.28,395.57 L305.01,394.76 L300.96,394.08 L297.12,393.52 L293.48,393.09 L290.04,392.76 L286.77,392.55 L283.68,392.44 L280.75,392.44 L277.97,392.53 L275.33,392.72 L272.82,393.01 L270.43,393.38 L268.14,393.83 L265.96,394.37 L263.87,394.98 L261.85,395.66 L259.92,396.41 L258.04,397.22 L256.22,398.08 L254.44,399 L252.7,399.95 L250.98,400.95 L249.28,401.98 L247.6,403.04Z" fill="url(#g5)"/>
<path d="M237.4,409.3 L250,399 Q250.47,404.33 254.5,408.3 Z" fill="#6cbfc1"/>
<path d="M295.44,434.72 L296.83,434.03 L298.15,433.31 L299.39,432.58 L300.56,431.84 L301.65,431.08 L302.69,430.33 L303.67,429.57 L304.61,428.82 L305.52,428.08 L306.4,427.34 L307.27,426.62 L308.14,425.91 L309,425.22 L309.89,424.55 L310.8,423.89 L311.74,423.26 L312.73,422.64 L313.77,422.06 L314.88,421.49 L316.07,420.95 L317.35,420.45 L318.72,419.97 L320.2,419.53 L321.81,419.13 L321.39,417.27 L319.72,417.61 L318.14,418 L316.66,418.42 L315.27,418.89 L313.96,419.39 L312.72,419.93 L311.55,420.49 L310.44,421.08 L309.38,421.7 L308.36,422.33 L307.38,422.98 L306.42,423.63 L305.49,424.3 L304.56,424.97 L303.64,425.63 L302.7,426.3 L301.75,426.96 L300.78,427.61 L299.77,428.25 L298.72,428.88 L297.61,429.49 L296.45,430.1 L295.2,430.68 L293.85,431.27Z" fill="url(#g6)"/>
<path d="M284.1,436.1 L297,427.3 Q296.73,432.49 299.9,436.7 Z" fill="#f2977b"/>
<path d="M243.82,445.98 L245.56,446.24 L247.26,446.48 L248.92,446.68 L250.55,446.86 L252.14,447.01 L253.69,447.12 L255.21,447.2 L256.69,447.25 L258.13,447.26 L259.54,447.23 L260.91,447.16 L262.25,447.05 L263.56,446.89 L264.83,446.7 L266.07,446.45 L267.27,446.16 L268.44,445.82 L269.58,445.43 L270.69,444.98 L271.76,444.49 L272.8,443.94 L273.81,443.33 L274.78,442.67 L275.71,441.97 L274.89,440.83 L273.96,441.47 L273.03,442.04 L272.06,442.55 L271.08,443.01 L270.06,443.41 L269.01,443.77 L267.94,444.08 L266.84,444.34 L265.7,444.56 L264.53,444.73 L263.33,444.86 L262.09,444.95 L260.81,445 L259.5,445.01 L258.16,444.98 L256.78,444.92 L255.35,444.81 L253.89,444.68 L252.39,444.51 L250.85,444.31 L249.27,444.08 L247.65,443.82 L245.99,443.53 L244.28,443.22Z" fill="url(#g7)"/>
<path d="M236,446 L247.2,439.6 Q246.12,444.24 247.8,448.4 Z" fill="#6cbfc1"/>
<path d="M237.88,510.65 L238.72,509.77 L239.51,508.86 L240.22,507.95 L240.86,507.05 L241.45,506.15 L241.99,505.25 L242.49,504.37 L242.96,503.49 L243.4,502.62 L243.83,501.76 L244.26,500.92 L244.68,500.08 L245.12,499.25 L245.58,498.43 L246.06,497.62 L246.58,496.82 L247.14,496.03 L247.75,495.24 L248.43,494.46 L249.17,493.69 L250,492.92 L250.91,492.16 L251.92,491.4 L253.05,490.65 L252.35,489.55 L251.16,490.28 L250.06,491.03 L249.06,491.8 L248.14,492.58 L247.3,493.37 L246.53,494.18 L245.82,494.99 L245.17,495.81 L244.57,496.64 L244.01,497.47 L243.48,498.3 L242.98,499.13 L242.5,499.96 L242.02,500.79 L241.55,501.61 L241.07,502.43 L240.57,503.25 L240.06,504.06 L239.51,504.86 L238.93,505.65 L238.3,506.45 L237.62,507.23 L236.88,508.01 L236.04,508.82Z" fill="url(#g8)"/>
<path d="M227.2,515.3 L237,504.3 Q238.42,509.1 242.9,512.2 Z" fill="#6cbfc1"/>
<path d="M337.5,254.5 C330,258 325.5,264 325.5,275 V300 Q325.5,304 321,304" fill="none" stroke="#f2977b" stroke-width="1.9"/>
<path d="M321.6,418.2 C325,419 325.6,424 325.5,430 V443 C325.5,452 329,461 334.5,466.6" fill="none" stroke="#f2977b" stroke-width="1.9"/>
<path d="M731.19,207.88 L732.14,208.5 L732.99,209.11 L733.76,209.73 L734.48,210.35 L735.15,210.99 L735.78,211.64 L736.37,212.31 L736.93,213 L737.47,213.7 L737.99,214.42 L738.51,215.17 L739.03,215.94 L739.56,216.73 L740.1,217.54 L740.66,218.37 L741.25,219.22 L741.87,220.1 L742.54,220.99 L743.26,221.91 L744.03,222.85 L744.86,223.81 L745.77,224.78 L746.75,225.78 L747.81,226.8 L748.79,225.8 L747.79,224.77 L746.89,223.76 L746.06,222.78 L745.3,221.82 L744.6,220.88 L743.96,219.97 L743.36,219.07 L742.81,218.19 L742.28,217.33 L741.78,216.48 L741.29,215.65 L740.81,214.82 L740.33,214 L739.84,213.2 L739.33,212.4 L738.8,211.61 L738.24,210.82 L737.63,210.04 L736.98,209.27 L736.27,208.51 L735.5,207.76 L734.66,207.01 L733.75,206.28 L732.78,205.58Z" fill="url(#g9)"/>
<path d="M722.4,201.1 L738.1,204.4 Q733.66,207.66 732.3,212.7 Z" fill="#1aa8dc"/>
<path d="M727.34,268.82 L728.68,268.49 L729.96,268.19 L731.19,267.91 L732.37,267.65 L733.51,267.41 L734.6,267.19 L735.65,267 L736.67,266.82 L737.64,266.67 L738.58,266.54 L739.49,266.43 L740.36,266.34 L741.21,266.28 L742.03,266.23 L742.82,266.21 L743.59,266.22 L744.33,266.24 L745.06,266.29 L745.78,266.36 L746.47,266.45 L747.16,266.57 L747.84,266.71 L748.5,266.87 L749.18,267.06 L749.62,265.74 L748.94,265.48 L748.23,265.24 L747.52,265.03 L746.79,264.85 L746.04,264.69 L745.28,264.55 L744.49,264.44 L743.69,264.35 L742.87,264.29 L742.02,264.25 L741.15,264.24 L740.25,264.25 L739.32,264.28 L738.36,264.33 L737.38,264.41 L736.35,264.51 L735.29,264.63 L734.2,264.78 L733.07,264.94 L731.89,265.13 L730.67,265.34 L729.41,265.57 L728.1,265.82 L726.74,266.08Z" fill="url(#g10)"/>
<path d="M717.9,266 L731,263.5 Q729.12,267.67 730.3,272.3 Z" fill="#1aa8dc"/>
<path d="M772.96,273.19 L774.59,272.7 L776.17,272.26 L777.71,271.87 L779.2,271.51 L780.65,271.2 L782.06,270.94 L783.44,270.72 L784.77,270.55 L786.08,270.43 L787.35,270.36 L788.59,270.34 L789.81,270.38 L791,270.46 L792.16,270.6 L793.31,270.8 L794.44,271.06 L795.55,271.37 L796.65,271.74 L797.73,272.18 L798.81,272.68 L799.88,273.24 L800.94,273.87 L802,274.57 L803.07,275.36 L803.93,274.24 L802.86,273.4 L801.78,272.61 L800.68,271.89 L799.57,271.23 L798.44,270.64 L797.29,270.12 L796.13,269.66 L794.94,269.26 L793.73,268.92 L792.5,268.65 L791.24,268.44 L789.96,268.28 L788.66,268.19 L787.32,268.15 L785.96,268.16 L784.57,268.23 L783.15,268.35 L781.7,268.52 L780.21,268.73 L778.68,269 L777.12,269.31 L775.52,269.66 L773.88,270.06 L772.21,270.49Z" fill="url(#g11)"/>
<path d="M762.5,269.6 L777.2,268.2 Q774.47,272.24 775,277 Z" fill="#6cbfc1"/>
<path d="M823.22,283.53 L824.35,284.15 L825.35,284.83 L826.33,285.62 L827.28,286.51 L828.22,287.49 L829.14,288.55 L830.07,289.67 L830.99,290.85 L831.93,292.06 L832.88,293.29 L833.87,294.54 L834.9,295.78 L835.98,297 L837.12,298.19 L838.34,299.33 L839.63,300.41 L841.02,301.42 L842.51,302.32 L844.11,303.12 L845.83,303.8 L847.67,304.34 L849.64,304.72 L851.75,304.95 L853.96,305 L854.04,303 L851.92,302.88 L850,302.6 L848.24,302.18 L846.62,301.64 L845.12,300.97 L843.74,300.2 L842.46,299.34 L841.27,298.39 L840.15,297.37 L839.1,296.28 L838.1,295.14 L837.15,293.94 L836.22,292.72 L835.33,291.47 L834.44,290.21 L833.56,288.94 L832.67,287.69 L831.76,286.45 L830.81,285.25 L829.81,284.09 L828.75,283 L827.62,281.97 L826.39,281.03 L825.14,280.25Z" fill="url(#g12)"/>
<path d="M811.6,277.7 L829.2,278.4 Q825.81,282.54 826.3,288 Z" fill="#f2977b"/>
<path d="M762.83,307.42 L763.88,307.76 L764.86,308.12 L765.82,308.53 L766.76,308.96 L767.69,309.44 L768.61,309.94 L769.53,310.47 L770.46,311.02 L771.41,311.59 L772.38,312.18 L773.38,312.78 L774.41,313.39 L775.49,314.01 L776.61,314.62 L777.79,315.23 L779.03,315.84 L780.33,316.43 L781.72,317 L783.18,317.56 L784.73,318.1 L786.38,318.6 L788.13,319.08 L789.99,319.53 L791.96,319.93 L792.24,318.67 L790.31,318.21 L788.5,317.72 L786.81,317.21 L785.23,316.66 L783.74,316.09 L782.34,315.51 L781.03,314.9 L779.79,314.28 L778.62,313.65 L777.51,313.02 L776.45,312.37 L775.43,311.73 L774.44,311.09 L773.49,310.45 L772.55,309.81 L771.62,309.19 L770.7,308.58 L769.77,307.98 L768.82,307.4 L767.86,306.85 L766.87,306.32 L765.84,305.83 L764.77,305.37 L763.68,304.96Z" fill="url(#g13)"/>
<path d="M752,304.2 L768.2,302.2 Q764.94,306.53 765.2,311.5 Z" fill="#6cbfc1"/>
<path d="M727.4,369.68 L728.49,369.6 L729.56,369.5 L730.61,369.37 L731.62,369.22 L732.62,369.06 L733.59,368.89 L734.54,368.71 L735.46,368.53 L736.38,368.34 L737.27,368.16 L738.16,367.98 L739.03,367.81 L739.89,367.65 L740.75,367.51 L741.6,367.39 L742.44,367.28 L743.29,367.2 L744.14,367.15 L745,367.13 L745.86,367.14 L746.73,367.19 L747.61,367.27 L748.51,367.4 L749.45,367.58 L749.75,366.22 L748.8,365.97 L747.85,365.77 L746.9,365.62 L745.97,365.51 L745.04,365.44 L744.12,365.4 L743.21,365.4 L742.31,365.42 L741.4,365.47 L740.5,365.54 L739.61,365.63 L738.71,365.74 L737.81,365.85 L736.9,365.97 L735.99,366.1 L735.08,366.23 L734.15,366.35 L733.22,366.47 L732.27,366.58 L731.31,366.68 L730.33,366.76 L729.34,366.82 L728.33,366.86 L727.27,366.88Z" fill="url(#g14)"/>
<path d="M718.1,366.9 L731.2,364.6 Q729.28,368.57 730.4,373 Z" fill="#1aa8dc"/>
<path d="M781.75,406.73 L783.63,405.37 L785.48,404.1 L787.33,402.91 L789.18,401.79 L791.04,400.75 L792.93,399.8 L794.85,398.92 L796.82,398.13 L798.84,397.41 L800.92,396.78 L803.07,396.24 L805.31,395.78 L807.63,395.41 L810.06,395.13 L812.6,394.95 L815.25,394.86 L818.03,394.87 L820.94,394.98 L824,395.18 L827.2,395.5 L830.56,395.92 L834.09,396.44 L837.8,397.08 L841.69,397.83 L842.11,395.77 L838.21,394.93 L834.48,394.2 L830.91,393.58 L827.5,393.07 L824.24,392.66 L821.12,392.36 L818.12,392.16 L815.25,392.06 L812.49,392.06 L809.84,392.17 L807.28,392.37 L804.81,392.67 L802.41,393.07 L800.1,393.56 L797.84,394.15 L795.65,394.83 L793.51,395.6 L791.41,396.45 L789.35,397.4 L787.32,398.42 L785.31,399.53 L783.31,400.71 L781.32,401.97 L779.35,403.28Z" fill="url(#g15)"/>
<path d="M770.4,409.1 L781.9,399.1 Q782.24,404.39 785.8,408.4 Z" fill="#6cbfc1"/>
<path d="M828.63,435.17 L829.78,434.42 L830.87,433.64 L831.9,432.84 L832.86,432.05 L833.77,431.25 L834.63,430.45 L835.44,429.66 L836.22,428.87 L836.97,428.1 L837.7,427.34 L838.41,426.6 L839.12,425.87 L839.82,425.16 L840.54,424.48 L841.26,423.81 L842.01,423.17 L842.79,422.55 L843.61,421.96 L844.47,421.39 L845.39,420.85 L846.36,420.35 L847.41,419.87 L848.54,419.42 L849.77,419.01 L849.23,417.19 L847.92,417.54 L846.67,417.95 L845.5,418.39 L844.38,418.88 L843.33,419.4 L842.33,419.95 L841.39,420.54 L840.48,421.15 L839.61,421.79 L838.77,422.44 L837.96,423.11 L837.17,423.79 L836.38,424.48 L835.61,425.18 L834.83,425.88 L834.04,426.58 L833.24,427.27 L832.42,427.96 L831.57,428.65 L830.69,429.32 L829.76,429.99 L828.79,430.65 L827.76,431.29 L826.63,431.94Z" fill="url(#g16)"/>
<path d="M815.9,436.9 L829.2,428.3 Q829.32,433.12 833.1,436.9 Z" fill="#f2977b"/>
<path d="M776.4,446.47 L778.07,446.67 L779.71,446.85 L781.32,447.01 L782.89,447.14 L784.43,447.25 L785.94,447.33 L787.42,447.38 L788.86,447.4 L790.28,447.38 L791.66,447.34 L793.01,447.25 L794.33,447.13 L795.61,446.97 L796.87,446.77 L798.1,446.53 L799.29,446.24 L800.45,445.9 L801.59,445.52 L802.69,445.09 L803.76,444.61 L804.79,444.08 L805.8,443.49 L806.77,442.86 L807.7,442.17 L806.9,441.03 L805.97,441.64 L805.04,442.18 L804.07,442.68 L803.09,443.12 L802.07,443.52 L801.03,443.86 L799.96,444.16 L798.86,444.42 L797.73,444.64 L796.56,444.81 L795.37,444.94 L794.15,445.04 L792.89,445.1 L791.6,445.12 L790.27,445.11 L788.92,445.07 L787.52,444.99 L786.1,444.88 L784.63,444.75 L783.14,444.59 L781.6,444.4 L780.03,444.19 L778.43,443.95 L776.78,443.7Z" fill="url(#g17)"/>
<path d="M768.25,447 L779.2,440 Q778.57,444.62 780.75,448.6 Z" fill="#6cbfc1"/>
<path d="M730.91,459.68 L732.27,459.62 L733.58,459.56 L734.85,459.5 L736.06,459.44 L737.23,459.38 L738.36,459.32 L739.45,459.26 L740.5,459.19 L741.51,459.12 L742.49,459.05 L743.44,458.97 L744.35,458.88 L745.24,458.79 L746.1,458.69 L746.93,458.58 L747.74,458.46 L748.53,458.33 L749.3,458.19 L750.05,458.04 L750.79,457.88 L751.51,457.7 L752.21,457.5 L752.91,457.3 L753.59,457.07 L753.21,455.73 L752.53,455.89 L751.86,456.03 L751.17,456.16 L750.47,456.27 L749.76,456.38 L749.03,456.46 L748.29,456.54 L747.52,456.61 L746.73,456.67 L745.92,456.72 L745.08,456.76 L744.21,456.79 L743.32,456.81 L742.38,456.83 L741.42,456.85 L740.42,456.86 L739.37,456.87 L738.29,456.87 L737.17,456.87 L736,456.87 L734.78,456.87 L733.52,456.87 L732.2,456.88 L730.84,456.88Z" fill="url(#g18)"/>
<path d="M722.2,461.1 L733.1,452.5 Q732.8,457.67 735.4,461.9 Z" fill="#1aa8dc"/>
<path d="M733.27,521.63 L734.13,520.65 L734.94,519.66 L735.69,518.69 L736.38,517.74 L737.02,516.81 L737.62,515.89 L738.17,514.99 L738.7,514.11 L739.21,513.25 L739.7,512.39 L740.18,511.56 L740.66,510.73 L741.14,509.92 L741.63,509.12 L742.14,508.32 L742.67,507.53 L743.24,506.75 L743.85,505.97 L744.5,505.19 L745.21,504.41 L745.97,503.63 L746.81,502.85 L747.72,502.06 L748.72,501.26 L747.88,500.14 L746.82,500.91 L745.82,501.69 L744.9,502.47 L744.05,503.26 L743.26,504.04 L742.52,504.83 L741.83,505.62 L741.18,506.41 L740.57,507.21 L739.98,508.01 L739.42,508.81 L738.88,509.62 L738.34,510.42 L737.81,511.23 L737.28,512.05 L736.73,512.87 L736.17,513.69 L735.59,514.52 L734.97,515.36 L734.32,516.21 L733.63,517.07 L732.88,517.94 L732.08,518.83 L731.2,519.74Z" fill="url(#g19)"/>
<path d="M723.5,525.5 L732.3,514.5 Q733.93,519.74 738.4,523.4 Z" fill="#1aa8dc"/>
<path d="M866.5,253 C861,257 857.5,263 857.5,274 V300 Q857.5,304 853,304" fill="none" stroke="#f2977b" stroke-width="1.9"/>
<path d="M849.5,418.1 C856,419 857.8,424 857.8,430 V443 C857.8,452 861,461 866.7,466.6" fill="none" stroke="#f2977b" stroke-width="1.9"/>
<path d="M102.2,165.3 Q145,163.5 186.2,182.2" fill="none" stroke="#fff" stroke-width="6.5" stroke-dasharray="78.49 106.49"/>
<path d="M355,164.5 Q320,166 287.1,178.3" fill="none" stroke="#fff" stroke-width="6.5"/>
<path d="M287.1,178.3 L294.62,171.65 L293.42,175.67 L297.12,177.65 Z" fill="#fff" stroke="#fff" stroke-width="3.5" stroke-linejoin="round"/>
<path d="M353.1,220.4 C310,222 265,240 242.7,264.6" fill="none" stroke="#fff" stroke-width="6.5"/>
<path d="M242.7,264.6 L246.57,255.34 L247.24,259.48 L251.44,259.65 Z" fill="#fff" stroke="#fff" stroke-width="3.5" stroke-linejoin="round"/>
<path d="M353.1,220.4 C330,224 300,245 292.5,274.7" fill="none" stroke="#fff" stroke-width="6.5"/>
<path d="M292.5,274.7 L291.65,264.7 L294.16,268.06 L297.96,266.27 Z" fill="#fff" stroke="#fff" stroke-width="3.5" stroke-linejoin="round"/>
<path d="M120.8,429.6 Q175,430 223,440.1" fill="none" stroke="#fff" stroke-width="6.5" stroke-dasharray="60.91 122.91"/>
<path d="M354.9,513 Q335,512 319.8,504.2" fill="none" stroke="#fff" stroke-width="6.5"/>
<path d="M319.8,504.2 L329.74,505.59 L325.9,507.29 L326.81,511.39 Z" fill="#fff" stroke="#fff" stroke-width="3.5" stroke-linejoin="round"/>
<path d="M589.2,165.3 Q632,163.5 673.6,182.2" fill="none" stroke="#fff" stroke-width="6.5" stroke-dasharray="78.87 106.87"/>
<path d="M884.1,165 Q850,166.5 817.4,178" fill="none" stroke="#fff" stroke-width="6.5"/>
<path d="M817.4,178 L825.05,171.5 L823.77,175.5 L827.43,177.55 Z" fill="#fff" stroke="#fff" stroke-width="3.5" stroke-linejoin="round"/>
<path d="M882.8,220.5 C830,224 780,240 750.3,261.3" fill="none" stroke="#fff" stroke-width="6.5"/>
<path d="M750.3,261.3 L756.28,253.24 L755.93,257.42 L759.97,258.59 Z" fill="#fff" stroke="#fff" stroke-width="3.5" stroke-linejoin="round"/>
<path d="M882.8,220.5 C860,225 830,245 824.2,271.5" fill="none" stroke="#fff" stroke-width="6.5"/>
<path d="M824.2,271.5 L822.78,261.56 L825.47,264.78 L829.16,262.77 Z" fill="#fff" stroke="#fff" stroke-width="3.5" stroke-linejoin="round"/>
<path d="M896.1,322.3 Q875,318 857.4,304.3" fill="none" stroke="#fff" stroke-width="6.5"/>
<path d="M857.4,304.3 L866.82,307.79 L862.7,308.62 L862.71,312.82 Z" fill="#fff" stroke="#fff" stroke-width="3.5" stroke-linejoin="round"/>
<path d="M911.8,355.7 C908,385 890,410 862.7,423.7" fill="none" stroke="#fff" stroke-width="6.5"/>
<path d="M862.7,423.7 L870.07,416.88 L868.95,420.93 L872.7,422.82 Z" fill="#fff" stroke="#fff" stroke-width="3.5" stroke-linejoin="round"/>
<path d="M613.8,429.9 Q665,430 710.2,408.2" fill="none" stroke="#fff" stroke-width="6.5" stroke-dasharray="53.67 119.67"/>
<path d="M884.9,513 Q865,512 851.5,504.5" fill="none" stroke="#fff" stroke-width="6.5"/>
<path d="M851.5,504.5 L861.42,506.07 L857.55,507.7 L858.38,511.82 Z" fill="#fff" stroke="#fff" stroke-width="3.5" stroke-linejoin="round"/>
<path d="M102.2,165.3 Q145,163.5 186.2,182.2" fill="none" stroke="#1e1e1e" stroke-width="1.7" stroke-dasharray="81.99 96.49"/>
<path d="M186.2,182.2 L176.21,181.18 L179.99,179.34 L178.93,175.27 Z" fill="#1e1e1e"/>
<path d="M355,164.5 Q320,166 287.1,178.3" fill="none" stroke="#1e1e1e" stroke-width="1.7" stroke-dasharray="65.08 79.58"/>
<path d="M287.1,178.3 L294.62,171.65 L293.42,175.67 L297.12,177.65 Z" fill="#1e1e1e"/>
<path d="M353.1,220.4 C310,222 265,240 242.7,264.6" fill="none" stroke="#1e1e1e" stroke-width="1.7" stroke-dasharray="117.19 131.69"/>
<path d="M242.7,264.6 L246.57,255.34 L247.24,259.48 L251.44,259.65 Z" fill="#1e1e1e"/>
<path d="M353.1,220.4 C330,224 300,245 292.5,274.7" fill="none" stroke="#1e1e1e" stroke-width="1.7" stroke-dasharray="81.1 95.6"/>
<path d="M292.5,274.7 L291.65,264.7 L294.16,268.06 L297.96,266.27 Z" fill="#1e1e1e"/>
<path d="M120.8,429.6 Q175,430 223,440.1" fill="none" stroke="#1e1e1e" stroke-width="1.7" stroke-dasharray="98.41 112.91"/>
<path d="M223,440.1 L212.99,440.83 L216.39,438.36 L214.64,434.54 Z" fill="#1e1e1e"/>
<path d="M354.9,513 Q335,512 319.8,504.2" fill="none" stroke="#1e1e1e" stroke-width="1.7" stroke-dasharray="31.96 46.46"/>
<path d="M319.8,504.2 L329.74,505.59 L325.9,507.29 L326.81,511.39 Z" fill="#1e1e1e"/>
<path d="M589.2,165.3 Q632,163.5 673.6,182.2" fill="none" stroke="#1e1e1e" stroke-width="1.7" stroke-dasharray="82.37 96.87"/>
<path d="M673.6,182.2 L663.62,181.14 L667.4,179.31 L666.36,175.25 Z" fill="#1e1e1e"/>
<path d="M884.1,165 Q850,166.5 817.4,178" fill="none" stroke="#1e1e1e" stroke-width="1.7" stroke-dasharray="63.7 78.2"/>
<path d="M817.4,178 L825.05,171.5 L823.77,175.5 L827.43,177.55 Z" fill="#1e1e1e"/>
<path d="M882.8,220.5 C830,224 780,240 750.3,261.3" fill="none" stroke="#1e1e1e" stroke-width="1.7" stroke-dasharray="135.73 150.23"/>
<path d="M750.3,261.3 L756.28,253.24 L755.93,257.42 L759.97,258.59 Z" fill="#1e1e1e"/>
<path d="M882.8,220.5 C860,225 830,245 824.2,271.5" fill="none" stroke="#1e1e1e" stroke-width="1.7" stroke-dasharray="77.07 91.57"/>
<path d="M824.2,271.5 L822.78,261.56 L825.47,264.78 L829.16,262.77 Z" fill="#1e1e1e"/>
<path d="M896.1,322.3 Q875,318 857.4,304.3" fill="none" stroke="#1e1e1e" stroke-width="1.7" stroke-dasharray="38.57 53.07"/>
<path d="M857.4,304.3 L866.82,307.79 L862.7,308.62 L862.71,312.82 Z" fill="#1e1e1e"/>
<path d="M911.8,355.7 C908,385 890,410 862.7,423.7" fill="none" stroke="#1e1e1e" stroke-width="1.7" stroke-dasharray="82.87 97.37"/>
<path d="M862.7,423.7 L870.07,416.88 L868.95,420.93 L872.7,422.82 Z" fill="#1e1e1e"/>
<path d="M613.8,429.9 Q665,430 710.2,408.2" fill="none" stroke="#1e1e1e" stroke-width="1.7" stroke-dasharray="95.17 109.67"/>
<path d="M710.2,408.2 L703.12,415.32 L704.07,411.23 L700.24,409.5 Z" fill="#1e1e1e"/>
<path d="M884.9,513 Q865,512 851.5,504.5" fill="none" stroke="#1e1e1e" stroke-width="1.7" stroke-dasharray="30.27 44.77"/>
<path d="M851.5,504.5 L861.42,506.07 L857.55,507.7 L858.38,511.82 Z" fill="#1e1e1e"/>
<text class="t" transform="translate(229.06,29.2) scale(1.0000,1)" font-size="24.71" letter-spacing="1.421">Condensation</text>
<text class="t" transform="translate(402.02,29.2) scale(1.0000,1)" font-size="24.71" letter-spacing="1.857">Potential</text>
<text class="t" transform="translate(518.45,29.2) scale(1.2500,1)" font-size="24.71" letter-spacing="2.398">in</text>
<text class="t" transform="translate(551.6,29.2) scale(1.0000,1)" font-size="24.71" letter-spacing="1.108">Wood-Framed</text>
<text class="t" transform="translate(729.7,29.2) scale(1.0000,1)" font-size="24.71" letter-spacing="1.715">Walls</text>
<text class="t" transform="translate(201.28,84.9) scale(1.0800,1)" font-size="18.9" letter-spacing="2.061">2x4</text>
<text class="t" transform="translate(246.3,84.9) scale(1.0800,1)" font-size="18.9" letter-spacing="0.323">Wall</text>
<text class="t" transform="translate(714.58,85) scale(1.0800,1)" font-size="18.9" letter-spacing="2.248">2x6</text>
<text class="t" transform="translate(757.8,85) scale(1.0800,1)" font-size="18.9" letter-spacing="0.478">Wall</text>
<text class="l" transform="translate(44.91,171.25) scale(0.5517,1)" font-size="17.88">1&quot; XPS rigid</text>
<text class="l" transform="translate(43.09,191.9) scale(0.6120,1)" font-size="17.88">insulation (R-5)</text>
<text class="l" transform="translate(358.05,169.7) scale(0.5956,1)" font-size="17.88">Batt insulation (R-13)</text>
<text class="l" transform="translate(358.9,224.5) scale(0.6047,1)" font-size="17.88">Warm, moist air migrates</text>
<text class="l" transform="translate(358.79,246) scale(0.6102,1)" font-size="17.88">towards cooler exterior</text>
<text class="l" transform="translate(13.84,434) scale(0.6016,1)" font-size="17.88">Less insulation in the</text>
<text class="l" transform="translate(14.81,455.2) scale(0.6160,1)" font-size="17.88">wall cavity results in</text>
<text class="l" transform="translate(14.59,476.4) scale(0.6075,1)" font-size="17.88">the sheathing temperature</text>
<text class="l" transform="translate(14.05,497.2) scale(0.6029,1)" font-size="17.88">being warmer (chance of</text>
<text class="l" transform="translate(14.05,518.8) scale(0.6089,1)" font-size="17.88">reaching dew point is lower)</text>
<text class="l" transform="translate(358.12,518.5) scale(0.6154,1)" font-size="17.88">Drywall</text>
<text class="l" transform="translate(531.91,171.25) scale(0.5517,1)" font-size="17.88">1&quot; XPS rigid</text>
<text class="l" transform="translate(530.09,191.9) scale(0.6120,1)" font-size="17.88">insulation (R-5)</text>
<text class="l" transform="translate(888.12,170) scale(0.6124,1)" font-size="17.88">High-density batt</text>
<text class="l" transform="translate(888.34,191.8) scale(0.6172,1)" font-size="17.88">insulation (R-20)</text>
<text class="l" transform="translate(889,224.8) scale(0.6047,1)" font-size="17.88">Warm, moist air migrates</text>
<text class="l" transform="translate(888.89,245.8) scale(0.6097,1)" font-size="17.88">towards cooler exterior</text>
<text class="l" transform="translate(901.2,327.3) scale(0.6008,1)" font-size="17.88">Air leaks into</text>
<text class="l" transform="translate(901.31,348.8) scale(0.6149,1)" font-size="17.88">wall cavity</text>
<text class="l" transform="translate(524.78,433.9) scale(0.6142,1)" font-size="17.88">Thicker insulation</text>
<text class="l" transform="translate(524.34,455.1) scale(0.6191,1)" font-size="17.88">in wall cavity results</text>
<text class="l" transform="translate(524.35,476.2) scale(0.6052,1)" font-size="17.88">in sheathing temp-</text>
<text class="l" transform="translate(524.57,497.5) scale(0.6010,1)" font-size="17.88">erature being cooler</text>
<text class="l" transform="translate(524.35,518.6) scale(0.6105,1)" font-size="17.88">(chance of reaching</text>
<text class="l" transform="translate(524.57,540) scale(0.6069,1)" font-size="17.88">dew point is greater)</text>
<text class="l" transform="translate(888.12,518.5) scale(0.6154,1)" font-size="17.88">Drywall</text>
</svg>
</body></html>
